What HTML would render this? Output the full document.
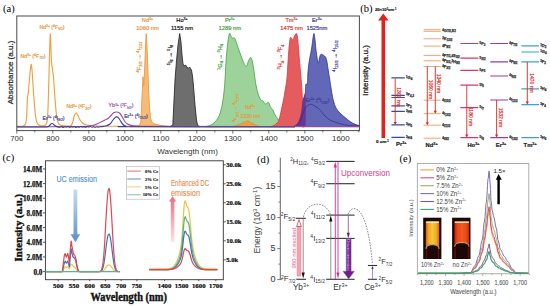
<!DOCTYPE html>
<html><head><meta charset="utf-8"><style>
html,body{margin:0;padding:0;background:#fff;width:550px;height:306px;overflow:hidden}
svg{display:block}
</style></head><body>
<svg width="550" height="306" viewBox="0 0 550 306">
<rect width="550" height="306" fill="#fff"/>
<text x="3" y="11.8" font-size="10.5" fill="#000" text-anchor="start" font-family='"Liberation Serif", serif' font-weight="normal" stroke="none">(a)</text>
<path d="M205.00,126.60 C205.83,126.42 208.50,126.10 210.00,125.50 C211.50,124.90 212.67,124.25 214.00,123.00 C215.33,121.75 216.92,119.83 218.00,118.00 C219.08,116.17 219.75,114.50 220.50,112.00 C221.25,109.50 221.92,106.33 222.50,103.00 C223.08,99.67 223.58,95.83 224.00,92.00 C224.42,88.17 224.67,85.00 225.00,80.00 C225.33,75.00 225.58,67.83 226.00,62.00 C226.42,56.17 226.93,49.73 227.50,45.00 C228.07,40.27 228.82,35.10 229.40,33.60 C229.98,32.10 230.48,35.18 231.00,36.00 C231.52,36.82 232.00,38.25 232.50,38.50 C233.00,38.75 233.50,37.25 234.00,37.50 C234.50,37.75 234.92,38.58 235.50,40.00 C236.08,41.42 236.75,43.83 237.50,46.00 C238.25,48.17 239.08,50.50 240.00,53.00 C240.92,55.50 242.17,59.00 243.00,61.00 C243.83,63.00 244.40,64.10 245.00,65.00 C245.60,65.90 246.02,67.07 246.60,66.40 C247.18,65.73 247.85,62.48 248.50,61.00 C249.15,59.52 249.92,57.67 250.50,57.50 C251.08,57.33 251.45,57.92 252.00,60.00 C252.55,62.08 253.13,65.83 253.80,70.00 C254.47,74.17 255.22,80.83 256.00,85.00 C256.78,89.17 257.67,92.50 258.50,95.00 C259.33,97.50 260.25,99.00 261.00,100.00 C261.75,101.00 262.25,100.33 263.00,101.00 C263.75,101.67 264.58,103.77 265.50,104.00 C266.42,104.23 267.75,102.07 268.50,102.40 C269.25,102.73 269.50,104.98 270.00,106.00 C270.50,107.02 271.00,107.83 271.50,108.50 C272.00,109.17 272.52,109.17 273.00,110.00 C273.48,110.83 273.90,112.42 274.40,113.50 C274.90,114.58 275.40,115.58 276.00,116.50 C276.60,117.42 277.17,117.92 278.00,119.00 C278.83,120.08 279.67,121.92 281.00,123.00 C282.33,124.08 283.67,124.90 286.00,125.50 C288.33,126.10 293.50,126.42 295.00,126.60 L295,126.6 L205,126.6 Z" fill="#9dd39a" stroke="#3fa33f" stroke-width="0.8"/>
<path d="M270.00,126.60 C270.67,126.42 272.83,126.10 274.00,125.50 C275.17,124.90 276.17,123.92 277.00,123.00 C277.83,122.08 278.28,122.17 279.00,120.00 C279.72,117.83 280.55,113.33 281.30,110.00 C282.05,106.67 282.85,103.33 283.50,100.00 C284.15,96.67 284.62,93.67 285.20,90.00 C285.78,86.33 286.57,82.17 287.00,78.00 C287.43,73.83 287.52,69.33 287.80,65.00 C288.08,60.67 288.42,55.67 288.70,52.00 C288.98,48.33 289.20,45.42 289.50,43.00 C289.80,40.58 290.08,38.17 290.50,37.50 C290.92,36.83 291.55,38.58 292.00,39.00 C292.45,39.42 292.78,40.50 293.20,40.00 C293.62,39.50 293.97,37.07 294.50,36.00 C295.03,34.93 295.90,33.43 296.40,33.60 C296.90,33.77 297.15,34.60 297.50,37.00 C297.85,39.40 298.15,43.83 298.50,48.00 C298.85,52.17 299.15,56.67 299.60,62.00 C300.05,67.33 300.77,74.50 301.20,80.00 C301.63,85.50 301.98,90.33 302.20,95.00 C302.42,99.67 302.42,104.50 302.50,108.00 C302.58,111.50 302.58,113.67 302.70,116.00 C302.82,118.33 302.95,120.37 303.20,122.00 C303.45,123.63 303.73,125.03 304.20,125.80 C304.67,126.57 305.70,126.47 306.00,126.60 Z" fill="#e45c5e" stroke="#d83838" stroke-width="0.8"/>
<path d="M302.00,126.60 C302.43,126.50 304.12,127.43 304.60,126.00 C305.08,124.57 304.80,122.33 304.90,118.00 C305.00,113.67 305.05,105.50 305.20,100.00 C305.35,94.50 305.42,87.67 305.80,85.00 C306.18,82.33 307.17,85.67 307.50,84.00 C307.83,82.33 307.60,78.17 307.80,75.00 C308.00,71.83 308.33,68.00 308.70,65.00 C309.07,62.00 309.50,59.83 310.00,57.00 C310.50,54.17 311.20,51.17 311.70,48.00 C312.20,44.83 312.62,40.40 313.00,38.00 C313.38,35.60 313.67,33.27 314.00,33.60 C314.33,33.93 314.58,36.60 315.00,40.00 C315.42,43.40 315.95,50.17 316.50,54.00 C317.05,57.83 317.80,62.33 318.30,63.00 C318.80,63.67 319.08,59.43 319.50,58.00 C319.92,56.57 320.22,54.90 320.80,54.40 C321.38,53.90 322.40,54.73 323.00,55.00 C323.60,55.27 323.98,55.67 324.40,56.00 C324.82,56.33 325.10,56.17 325.50,57.00 C325.90,57.83 326.35,58.83 326.80,61.00 C327.25,63.17 327.70,66.83 328.20,70.00 C328.70,73.17 329.25,76.50 329.80,80.00 C330.35,83.50 330.88,87.50 331.50,91.00 C332.12,94.50 332.75,98.17 333.50,101.00 C334.25,103.83 334.92,106.00 336.00,108.00 C337.08,110.00 338.50,111.42 340.00,113.00 C341.50,114.58 343.33,116.08 345.00,117.50 C346.67,118.92 348.33,120.37 350.00,121.50 C351.67,122.63 353.43,123.62 355.00,124.30 C356.57,124.98 358.67,125.38 359.40,125.60 L359.4,126.6 Z" fill="#5b5fb3" fill-opacity="0.95" stroke="#2f3391" stroke-width="0.8"/>
<path d="M294.5,126.6 C298,124.5 301.2,118 302.5,100 L305.3,92 L305.3,126.6 Z" fill="#6b3592"/>
<path d="M293.50,126.40 C294.08,126.08 295.92,125.40 297.00,124.50 C298.08,123.60 298.92,123.08 300.00,121.00 C301.08,118.92 302.42,114.42 303.50,112.00 C304.58,109.58 305.50,107.75 306.50,106.50 C307.50,105.25 308.67,104.85 309.50,104.50 C310.33,104.15 310.75,104.23 311.50,104.40 C312.25,104.57 312.92,104.90 314.00,105.50 C315.08,106.10 316.92,107.17 318.00,108.00 C319.08,108.83 319.33,109.17 320.50,110.50 C321.67,111.83 323.42,114.42 325.00,116.00 C326.58,117.58 328.33,119.00 330.00,120.00 C331.67,121.00 333.17,121.33 335.00,122.00 C336.83,122.67 338.83,123.45 341.00,124.00 C343.17,124.55 345.00,124.97 348.00,125.30 C351.00,125.63 357.17,125.88 359.00,126.00" fill="none" stroke="#2f3391" stroke-width="0.8"/>
<path d="M170.00,126.60 L172.80,125.00 L174.00,100.00 L175.00,80.00 L176.40,62.00 L178.00,45.00 L179.70,33.60 L181.00,42.00 L182.00,55.00 L183.00,64.00 L184.00,66.00 L185.50,65.00 L187.00,67.00 L188.20,68.50 L189.50,67.00 L190.50,68.50 L191.50,70.00 L192.50,76.00 L193.40,85.00 L195.00,105.00 L196.50,120.00 L197.60,125.50 L200.00,126.60 Z" fill="#6e6e6e" stroke="#1e1e1e" stroke-width="0.8"/>
<path d="M130.00,126.60 L137.00,126.00 L139.50,125.00 L140.80,122.00 L141.50,108.00 L142.30,90.00 L143.00,76.70 L143.80,86.00 L144.60,70.00 L145.40,48.00 L146.20,33.60 L147.00,46.00 L147.70,65.00 L148.50,88.00 L149.50,108.00 L150.50,118.00 L152.00,122.50 L156.00,124.50 L162.00,125.60 L170.00,126.60 Z" fill="#f6bb78" stroke="#ee9a3f" stroke-width="0.9"/>
<path d="M232.00,126.60 C232.67,126.42 234.67,125.93 236.00,125.50 C237.33,125.07 238.83,124.50 240.00,124.00 C241.17,123.50 242.00,122.92 243.00,122.50 C244.00,122.08 245.17,121.83 246.00,121.50 C246.83,121.17 247.33,120.42 248.00,120.50 C248.67,120.58 249.17,121.50 250.00,122.00 C250.83,122.50 252.00,123.00 253.00,123.50 C254.00,124.00 254.83,124.48 256.00,125.00 C257.17,125.52 259.33,126.33 260.00,126.60 Z" fill="#e8a040" stroke="#e08a20" stroke-width="0.6"/>
<path d="M17.20,126.30 C17.68,126.29 21.27,126.28 22.00,126.20 C22.73,126.12 24.12,125.82 24.50,125.50 C24.88,125.18 25.60,123.75 25.80,123.00 C26.00,122.25 26.38,119.50 26.50,118.00 C26.62,116.50 26.90,110.10 27.00,108.00 C27.10,105.90 27.38,98.45 27.50,97.00 C27.62,95.55 28.05,94.70 28.20,93.50 C28.35,92.30 28.81,87.15 29.00,85.00 C29.19,82.85 29.89,74.07 30.10,72.00 C30.31,69.93 30.92,64.60 31.10,64.30 C31.28,64.00 31.74,67.43 31.90,69.00 C32.06,70.57 32.53,77.50 32.70,80.00 C32.87,82.50 33.41,91.30 33.60,94.00 C33.79,96.70 34.39,104.70 34.60,107.00 C34.81,109.30 35.46,115.42 35.70,117.00 C35.94,118.58 36.62,121.96 37.00,122.80 C37.38,123.64 38.80,125.12 39.50,125.40 C40.20,125.68 43.35,125.69 44.00,125.60 C44.65,125.51 45.67,125.06 46.00,124.50 C46.33,123.94 47.09,121.85 47.30,120.00 C47.51,118.15 47.95,109.80 48.10,106.00 C48.25,102.20 48.65,87.40 48.80,82.00 C48.95,76.60 49.45,56.82 49.60,52.00 C49.75,47.18 50.17,34.20 50.30,33.80 C50.43,33.40 50.78,45.18 50.90,48.00 C51.02,50.82 51.34,59.85 51.50,62.00 C51.66,64.15 52.31,68.10 52.50,69.50 C52.69,70.90 53.21,73.95 53.40,76.00 C53.59,78.05 54.19,87.10 54.40,90.00 C54.61,92.90 55.27,102.35 55.50,105.00 C55.73,107.65 56.43,114.72 56.70,116.50 C56.97,118.28 57.77,121.91 58.20,122.80 C58.63,123.69 60.12,125.08 61.00,125.40 C61.88,125.72 66.00,125.96 67.00,126.00 C68.00,126.04 70.42,126.20 71.00,125.80 C71.58,125.40 72.48,122.98 72.80,122.00 C73.12,121.02 73.89,116.91 74.20,116.00 C74.51,115.09 75.57,113.05 75.90,112.90 C76.23,112.75 77.14,113.89 77.50,114.50 C77.86,115.11 79.05,118.20 79.50,119.00 C79.95,119.80 81.35,121.92 82.00,122.50 C82.65,123.08 85.00,124.47 86.00,124.80 C87.00,125.13 89.60,125.66 92.00,125.80 C94.40,125.94 106.20,126.16 110.00,126.20 C113.80,126.24 128.00,126.20 130.00,126.20" fill="none" stroke="#f0a040" stroke-width="1.15"/>
<path d="M17.00,126.80 C27.50,126.77 67.50,126.82 80.00,126.60 C92.50,126.38 89.00,126.02 92.00,125.50 C95.00,124.98 96.33,124.17 98.00,123.50 C99.67,122.83 100.83,122.08 102.00,121.50 C103.17,120.92 104.00,120.50 105.00,120.00 C106.00,119.50 107.00,119.25 108.00,118.50 C109.00,117.75 110.08,116.45 111.00,115.50 C111.92,114.55 112.55,113.38 113.50,112.80 C114.45,112.22 115.70,111.97 116.70,112.00 C117.70,112.03 118.62,112.25 119.50,113.00 C120.38,113.75 121.17,115.17 122.00,116.50 C122.83,117.83 123.67,119.78 124.50,121.00 C125.33,122.22 125.92,123.08 127.00,123.80 C128.08,124.52 129.33,124.93 131.00,125.30 C132.67,125.67 133.83,125.82 137.00,126.00 C140.17,126.18 113.00,126.30 150.00,126.40 C187.00,126.50 324.17,126.57 359.00,126.60" fill="none" stroke="#a3489e" stroke-width="1.1"/>
<path d="M17.00,127.00 C21.67,127.00 39.67,127.17 45.00,127.00 C50.33,126.83 47.83,126.63 49.00,126.00 C50.17,125.37 51.00,123.23 52.00,123.20 C53.00,123.17 54.00,125.17 55.00,125.80 C56.00,126.43 57.17,126.77 58.00,127.00 C58.83,127.23 59.40,127.28 60.00,127.20 C60.60,127.12 61.07,126.47 61.60,126.50 C62.13,126.53 62.67,127.37 63.20,127.40 C63.73,127.43 64.27,126.77 64.80,126.70 C65.33,126.63 65.87,127.05 66.40,127.00 C66.93,126.95 67.47,126.35 68.00,126.40 C68.53,126.45 69.07,127.27 69.60,127.30 C70.13,127.33 70.67,126.63 71.20,126.60 C71.73,126.57 72.27,127.12 72.80,127.10 C73.33,127.08 73.87,126.45 74.40,126.50 C74.93,126.55 75.47,127.35 76.00,127.40 C76.53,127.45 77.07,126.83 77.60,126.80 C78.13,126.77 78.67,127.27 79.20,127.20 C79.73,127.13 80.27,126.42 80.80,126.40 C81.33,126.38 81.87,127.07 82.40,127.10 C82.93,127.13 83.47,126.57 84.00,126.60 C84.53,126.63 85.07,127.28 85.60,127.30 C86.13,127.32 86.67,126.75 87.20,126.70 C87.73,126.65 88.27,127.03 88.80,127.00 C89.33,126.97 89.87,126.47 90.40,126.50 C90.93,126.53 91.47,127.18 92.00,127.20 C92.53,127.22 93.07,126.58 93.60,126.60 C94.13,126.62 94.67,127.27 95.20,127.30 C95.73,127.33 96.27,126.83 96.80,126.80 C97.33,126.77 97.87,127.10 98.40,127.10 C98.93,127.10 98.73,126.98 100.00,126.80 C101.27,126.62 104.33,126.47 106.00,126.00 C107.67,125.53 108.83,125.00 110.00,124.00 C111.17,123.00 112.08,121.13 113.00,120.00 C113.92,118.87 114.88,117.72 115.50,117.20 C116.12,116.68 116.20,116.80 116.70,116.90 C117.20,117.00 117.87,117.12 118.50,117.80 C119.13,118.48 119.75,119.88 120.50,121.00 C121.25,122.12 122.08,123.63 123.00,124.50 C123.92,125.37 124.50,125.82 126.00,126.20 C127.50,126.58 103.83,126.67 132.00,126.80 C160.17,126.93 267.83,126.97 295.00,127.00" fill="none" stroke="#3a3d9a" stroke-width="1.1"/>
<rect x="16.8" y="16.0" width="342.59999999999997" height="114.6" fill="none" stroke="#4a4a4a" stroke-width="1"/>
<path d="M16.80,130.6 L16.80,133.6 M34.80,130.6 L34.80,132.4 M52.80,130.6 L52.80,133.6 M70.80,130.6 L70.80,132.4 M88.80,130.6 L88.80,133.6 M106.80,130.6 L106.80,132.4 M124.80,130.6 L124.80,133.6 M142.80,130.6 L142.80,132.4 M160.80,130.6 L160.80,133.6 M178.80,130.6 L178.80,132.4 M196.80,130.6 L196.80,133.6 M214.80,130.6 L214.80,132.4 M232.80,130.6 L232.80,133.6 M250.80,130.6 L250.80,132.4 M268.80,130.6 L268.80,133.6 M286.80,130.6 L286.80,132.4 M304.80,130.6 L304.80,133.6 M322.80,130.6 L322.80,132.4 M340.80,130.6 L340.80,133.6 M358.80,130.6 L358.80,132.4 " stroke="#4a4a4a" stroke-width="0.8"/>
<text x="16.8" y="141.4" font-size="7.9" fill="#333" text-anchor="middle" font-family='"Liberation Sans", sans-serif' font-weight="normal" stroke="none">700</text>
<text x="52.8" y="141.4" font-size="7.9" fill="#333" text-anchor="middle" font-family='"Liberation Sans", sans-serif' font-weight="normal" stroke="none">800</text>
<text x="88.8" y="141.4" font-size="7.9" fill="#333" text-anchor="middle" font-family='"Liberation Sans", sans-serif' font-weight="normal" stroke="none">900</text>
<text x="124.8" y="141.4" font-size="7.9" fill="#333" text-anchor="middle" font-family='"Liberation Sans", sans-serif' font-weight="normal" stroke="none">1000</text>
<text x="160.8" y="141.4" font-size="7.9" fill="#333" text-anchor="middle" font-family='"Liberation Sans", sans-serif' font-weight="normal" stroke="none">1100</text>
<text x="196.8" y="141.4" font-size="7.9" fill="#333" text-anchor="middle" font-family='"Liberation Sans", sans-serif' font-weight="normal" stroke="none">1200</text>
<text x="232.8" y="141.4" font-size="7.9" fill="#333" text-anchor="middle" font-family='"Liberation Sans", sans-serif' font-weight="normal" stroke="none">1300</text>
<text x="268.8" y="141.4" font-size="7.9" fill="#333" text-anchor="middle" font-family='"Liberation Sans", sans-serif' font-weight="normal" stroke="none">1400</text>
<text x="304.8" y="141.4" font-size="7.9" fill="#333" text-anchor="middle" font-family='"Liberation Sans", sans-serif' font-weight="normal" stroke="none">1500</text>
<text x="340.8" y="141.4" font-size="7.9" fill="#333" text-anchor="middle" font-family='"Liberation Sans", sans-serif' font-weight="normal" stroke="none">1600</text>
<text x="187.5" y="153.5" font-size="8" fill="#333" text-anchor="middle" font-family='"Liberation Sans", sans-serif' font-weight="normal" stroke="none">Wavelength (nm)</text>
<text transform="translate(12.6,72.5) rotate(-90)" font-size="8" fill="#333" text-anchor="middle" font-family='"Liberation Sans", sans-serif' stroke="#333" stroke-width="0.28">Absorbance (a.u.)</text>
<text x="33" y="58" font-size="5.2" fill="#e8943a" text-anchor="middle" font-family='"Liberation Sans", sans-serif' stroke="#e8943a" stroke-width="0.18">Nd<tspan font-size="3.4" dy="-1.8">3+</tspan><tspan dy="1.8"> (</tspan><tspan font-size="3.4" dy="-1.8">4</tspan><tspan dy="1.8">F</tspan><tspan font-size="3.4" dy="1.4">7/2</tspan><tspan dy="-1.4">)</tspan></text>
<text x="52" y="28.6" font-size="5.2" fill="#e8943a" text-anchor="middle" font-family='"Liberation Sans", sans-serif' stroke="#e8943a" stroke-width="0.18">Nd<tspan font-size="3.4" dy="-1.8">3+</tspan><tspan dy="1.8"> (</tspan><tspan font-size="3.4" dy="-1.8">4</tspan><tspan dy="1.8">F</tspan><tspan font-size="3.4" dy="1.4">5/2</tspan><tspan dy="-1.4">)</tspan></text>
<text x="79" y="108.3" font-size="5.2" fill="#e8943a" text-anchor="middle" font-family='"Liberation Sans", sans-serif' stroke="#e8943a" stroke-width="0.18">Nd<tspan font-size="3.4" dy="-1.8">3+</tspan><tspan dy="1.8"> (</tspan><tspan font-size="3.4" dy="-1.8">4</tspan><tspan dy="1.8">F</tspan><tspan font-size="3.4" dy="1.4">3/2</tspan><tspan dy="-1.4">)</tspan></text>
<text x="53.5" y="119.5" font-size="5.2" fill="#3a3d9a" text-anchor="middle" font-family='"Liberation Sans", sans-serif' stroke="#3a3d9a" stroke-width="0.18">Er<tspan font-size="3.4" dy="-1.8">3+</tspan><tspan dy="1.8"> (</tspan><tspan font-size="3.4" dy="-1.8">4</tspan><tspan dy="1.8">I</tspan><tspan font-size="3.4" dy="1.4">9/2</tspan><tspan dy="-1.4">)</tspan></text>
<text x="121" y="107.3" font-size="5.2" fill="#a64ca6" text-anchor="middle" font-family='"Liberation Sans", sans-serif' stroke="#a64ca6" stroke-width="0.18">Yb<tspan font-size="3.4" dy="-1.8">3+</tspan><tspan dy="1.8"> (</tspan><tspan font-size="3.4" dy="-1.8">2</tspan><tspan dy="1.8">F</tspan><tspan font-size="3.4" dy="1.4">5/2</tspan><tspan dy="-1.4">)</tspan></text>
<text x="136" y="117.6" font-size="5.2" fill="#3a3d9a" text-anchor="middle" font-family='"Liberation Sans", sans-serif' stroke="#3a3d9a" stroke-width="0.18">Er<tspan font-size="3.4" dy="-1.8">3+</tspan><tspan dy="1.8"> (</tspan><tspan font-size="3.4" dy="-1.8">4</tspan><tspan dy="1.8">I</tspan><tspan font-size="3.4" dy="1.4">11/2</tspan><tspan dy="-1.4">)</tspan></text>
<text x="317.5" y="102.2" font-size="5.2" fill="#3a3d9a" text-anchor="middle" font-family='"Liberation Sans", sans-serif' stroke="#3a3d9a" stroke-width="0.18">Er<tspan font-size="3.4" dy="-1.8">3+</tspan><tspan dy="1.8"> (</tspan><tspan font-size="3.4" dy="-1.8">4</tspan><tspan dy="1.8">I</tspan><tspan font-size="3.4" dy="1.4">13/2</tspan><tspan dy="-1.4">)</tspan></text>
<text x="147.5" y="22.3" font-size="5.6" fill="#e8943a" text-anchor="middle" font-family='"Liberation Sans", sans-serif' stroke="#e8943a" stroke-width="0.20">Nd<tspan font-size="3.6" dy="-2">3+</tspan></text>
<text x="147.5" y="30.4" font-size="5.8" fill="#e8943a" text-anchor="middle" font-family='"Liberation Sans", sans-serif' stroke="#e8943a" stroke-width="0.20">1060 nm</text>
<text x="182" y="22.3" font-size="5.6" fill="#111" text-anchor="middle" font-family='"Liberation Sans", sans-serif' stroke="#111" stroke-width="0.20">Ho<tspan font-size="3.6" dy="-2">3+</tspan></text>
<text x="182" y="30.4" font-size="5.8" fill="#111" text-anchor="middle" font-family='"Liberation Sans", sans-serif' stroke="#111" stroke-width="0.20">1155 nm</text>
<text x="229.8" y="22.3" font-size="5.6" fill="#3fa33f" text-anchor="middle" font-family='"Liberation Sans", sans-serif' stroke="#3fa33f" stroke-width="0.20">Pr<tspan font-size="3.6" dy="-2">3+</tspan></text>
<text x="229.8" y="30.4" font-size="5.8" fill="#3fa33f" text-anchor="middle" font-family='"Liberation Sans", sans-serif' stroke="#3fa33f" stroke-width="0.20">1289 nm</text>
<text x="291.5" y="22.3" font-size="5.6" fill="#e03a3a" text-anchor="middle" font-family='"Liberation Sans", sans-serif' stroke="#e03a3a" stroke-width="0.20">Tm<tspan font-size="3.6" dy="-2">3+</tspan></text>
<text x="291.5" y="30.4" font-size="5.8" fill="#e03a3a" text-anchor="middle" font-family='"Liberation Sans", sans-serif' stroke="#e03a3a" stroke-width="0.20">1475 nm</text>
<text x="316.9" y="22.3" font-size="5.6" fill="#3a3d9a" text-anchor="middle" font-family='"Liberation Sans", sans-serif' stroke="#3a3d9a" stroke-width="0.20">Er<tspan font-size="3.6" dy="-2">3+</tspan></text>
<text x="316.9" y="30.4" font-size="5.8" fill="#3a3d9a" text-anchor="middle" font-family='"Liberation Sans", sans-serif' stroke="#3a3d9a" stroke-width="0.20">1525nm</text>
<text transform="translate(140.5,57) rotate(-90)" font-size="5.6" fill="#e8943a" text-anchor="middle" font-family='"Liberation Sans", sans-serif' stroke="#e8943a" stroke-width="0.20"><tspan font-size="3.9" dy="-1.9">4</tspan><tspan dy="1.9">F</tspan><tspan font-size="3.9" dy="1.3">3/2</tspan><tspan dy="-1.3"> → </tspan><tspan font-size="3.9" dy="-1.9">4</tspan><tspan dy="1.9">I</tspan><tspan font-size="3.9" dy="1.3">11/2</tspan></text>
<text transform="translate(172.0,55) rotate(-90)" font-size="5.6" fill="#111" text-anchor="middle" font-family='"Liberation Sans", sans-serif' stroke="#111" stroke-width="0.20"><tspan font-size="3.9" dy="-1.9">5</tspan><tspan dy="1.9">I</tspan><tspan font-size="3.9" dy="1.3">6</tspan><tspan dy="-1.3"> → </tspan><tspan font-size="3.9" dy="-1.9">5</tspan><tspan dy="1.9">I</tspan><tspan font-size="3.9" dy="1.3">8</tspan></text>
<text transform="translate(221.6,57) rotate(-90)" font-size="5.6" fill="#3fa33f" text-anchor="middle" font-family='"Liberation Sans", sans-serif' stroke="#3fa33f" stroke-width="0.20"><tspan font-size="3.9" dy="-1.9">1</tspan><tspan dy="1.9">G</tspan><tspan font-size="3.9" dy="1.3">4</tspan><tspan dy="-1.3"> → </tspan><tspan font-size="3.9" dy="-1.9">3</tspan><tspan dy="1.9">H</tspan><tspan font-size="3.9" dy="1.3">4</tspan></text>
<text transform="translate(282.3,57) rotate(-90)" font-size="5.6" fill="#e03a3a" text-anchor="middle" font-family='"Liberation Sans", sans-serif' stroke="#e03a3a" stroke-width="0.20"><tspan font-size="3.9" dy="-1.9">3</tspan><tspan dy="1.9">H</tspan><tspan font-size="3.9" dy="1.3">4</tspan><tspan dy="-1.3"> → </tspan><tspan font-size="3.9" dy="-1.9">3</tspan><tspan dy="1.9">F</tspan><tspan font-size="3.9" dy="1.3">4</tspan></text>
<text transform="translate(336.8,56) rotate(-90)" font-size="5.6" fill="#3a3d9a" text-anchor="middle" font-family='"Liberation Sans", sans-serif' stroke="#3a3d9a" stroke-width="0.20"><tspan font-size="3.9" dy="-1.9">4</tspan><tspan dy="1.9">I</tspan><tspan font-size="3.9" dy="1.3">13/2</tspan><tspan dy="-1.3"> → </tspan><tspan font-size="3.9" dy="-1.9">4</tspan><tspan dy="1.9">I</tspan><tspan font-size="3.9" dy="1.3">15/2</tspan></text>
<text transform="translate(237.3,108) rotate(-90)" font-size="4.4" fill="#e8943a" text-anchor="middle" font-family='"Liberation Sans", sans-serif' stroke="#e8943a" stroke-width="0.15"><tspan font-size="3.9" dy="-1.9">4</tspan><tspan dy="1.9">F</tspan><tspan font-size="3.9" dy="1.3">3/2</tspan><tspan dy="-1.3"> → </tspan><tspan font-size="3.9" dy="-1.9">4</tspan><tspan dy="1.9">I</tspan><tspan font-size="3.9" dy="1.3">13/2</tspan></text>
<text x="250" y="108.5" font-size="5" fill="#e8943a" text-anchor="middle" font-family='"Liberation Sans", sans-serif' stroke="#e8943a" stroke-width="0.18">Nd<tspan font-size="3.3" dy="-1.8">3+</tspan></text>
<text x="250.5" y="117.5" font-size="5.2" fill="#e8943a" text-anchor="middle" font-family='"Liberation Sans", sans-serif' stroke="#e8943a" stroke-width="0.18">1330 nm</text>
<text x="360.3" y="12.4" font-size="10.5" fill="#000" text-anchor="start" font-family='"Liberation Serif", serif' font-weight="normal" stroke="none">(b)</text>
<text x="374.9" y="10.8" font-size="4.4" fill="#111" textLength="21.4" lengthAdjust="spacingAndGlyphs" font-family='"Liberation Sans", sans-serif' font-weight="bold" stroke="#111" stroke-width="0.15">20×10<tspan font-size="2.6" dy="-1.2">3</tspan><tspan dy="1.2">cm</tspan><tspan font-size="2.6" dy="-1.2">-1</tspan></text>
<text x="375.9" y="143.3" font-size="4.4" fill="#111" textLength="13" lengthAdjust="spacingAndGlyphs" font-family='"Liberation Sans", sans-serif' font-weight="bold" stroke="#111" stroke-width="0.15">0 cm<tspan font-size="2.6" dy="-1.2">-1</tspan></text>
<path d="M381.5,138 L381.5,20.5 L378.1,20.5 L383.3,13.4 L388.6,20.5 L385.1,20.5 L385.1,138 Z" fill="#e2201e"/>
<text transform="translate(368.4,70.5) rotate(-90)" font-size="8" fill="#222" text-anchor="middle" font-family='"Liberation Sans", sans-serif' stroke="#222" stroke-width="0.28">Intensity (a.u.)</text>
<path d="M391.4,77.8 L404.8,77.8 M391.4,95.3 L404.8,95.3 M391.4,97.5 L404.8,97.5 M391.4,105.8 L404.8,105.8 M391.4,111.4 L404.8,111.4 M391.4,124.9 L404.8,124.9 M391.4,137.4 L404.8,137.4 " stroke="#2b4fa8" stroke-width="1.2"/>
<text x="406.0" y="79.1" font-size="4.0" fill="#333" font-family='"Liberation Sans", sans-serif' font-weight="bold" stroke="#333" stroke-width="0.25"><tspan font-size="2.9" dy="-0.9">1</tspan><tspan dy="0.9">G</tspan><tspan font-size="2.9" dy="0.7">4</tspan><tspan dy="-0.7"></tspan></text>
<text x="406.0" y="96.1" font-size="4.0" fill="#333" font-family='"Liberation Sans", sans-serif' font-weight="bold" stroke="#333" stroke-width="0.25"><tspan font-size="2.9" dy="-0.9">3</tspan><tspan dy="0.9">F</tspan><tspan font-size="2.9" dy="0.7">4,3</tspan><tspan dy="-0.7"></tspan></text>
<text x="406.0" y="107.1" font-size="4.0" fill="#333" font-family='"Liberation Sans", sans-serif' font-weight="bold" stroke="#333" stroke-width="0.25"><tspan font-size="2.9" dy="-0.9">3</tspan><tspan dy="0.9">F</tspan><tspan font-size="2.9" dy="0.7">2</tspan><tspan dy="-0.7"></tspan></text>
<text x="406.0" y="112.7" font-size="4.0" fill="#333" font-family='"Liberation Sans", sans-serif' font-weight="bold" stroke="#333" stroke-width="0.25"><tspan font-size="2.9" dy="-0.9">3</tspan><tspan dy="0.9">H</tspan><tspan font-size="2.9" dy="0.7">6</tspan><tspan dy="-0.7"></tspan></text>
<text x="406.0" y="126.2" font-size="4.0" fill="#333" font-family='"Liberation Sans", sans-serif' font-weight="bold" stroke="#333" stroke-width="0.25"><tspan font-size="2.9" dy="-0.9">3</tspan><tspan dy="0.9">H</tspan><tspan font-size="2.9" dy="0.7">5</tspan><tspan dy="-0.7"></tspan></text>
<text x="406.0" y="138.70000000000002" font-size="4.0" fill="#333" font-family='"Liberation Sans", sans-serif' font-weight="bold" stroke="#333" stroke-width="0.25"><tspan font-size="2.9" dy="-0.9">3</tspan><tspan dy="0.9">H</tspan><tspan font-size="2.9" dy="0.7">4</tspan><tspan dy="-0.7"></tspan></text>
<path d="M395.2,78.5 L395.2,122.5" stroke="#e02424" stroke-width="0.9"/>
<path d="M393.59999999999997,122.0 L396.8,122.0 L395.2,125.0 Z" fill="#e02424"/>
<text transform="translate(396.8,97) rotate(90)" font-size="5.0" fill="#e02424" text-anchor="middle" font-family='"Liberation Sans", sans-serif' stroke="#e02424" stroke-width="0.18">1300 nm</text>
<text x="396.1" y="145.8" font-size="5.8" fill="#222" font-family='"Liberation Sans", sans-serif' font-weight="bold" stroke="#222" stroke-width="0.20">Pr<tspan font-size="3.8" dy="-2">3+</tspan></text>
<path d="M423.6,29.7 L440.7,29.7 M423.6,31.3 L440.7,31.3 M423.6,38.8 L440.7,38.8 M423.6,46.1 L440.7,46.1 M423.6,55.4 L440.7,55.4 M423.6,60.8 L440.7,60.8 M423.6,66.5 L440.7,66.5 M423.6,100.2 L440.7,100.2 M423.6,113.7 L440.7,113.7 M423.6,125.2 L440.7,125.2 M423.6,138.2 L440.7,138.2 " stroke="#f2a36e" stroke-width="1.0"/>
<text x="442.2" y="31.5" font-size="4.0" fill="#333" font-family='"Liberation Sans", sans-serif' font-weight="bold" stroke="#333" stroke-width="0.25"><tspan font-size="2.9" dy="-0.9">4</tspan><tspan dy="0.9">G</tspan><tspan font-size="2.9" dy="0.7">7/2,9/2</tspan><tspan dy="-0.7"></tspan></text>
<text x="442.2" y="40.099999999999994" font-size="4.0" fill="#333" font-family='"Liberation Sans", sans-serif' font-weight="bold" stroke="#333" stroke-width="0.25"><tspan font-size="2.9" dy="-0.9">2</tspan><tspan dy="0.9">K</tspan><tspan font-size="2.9" dy="0.7">13/2</tspan><tspan dy="-0.7"></tspan></text>
<text x="442.2" y="47.4" font-size="4.0" fill="#333" font-family='"Liberation Sans", sans-serif' font-weight="bold" stroke="#333" stroke-width="0.25"><tspan font-size="2.9" dy="-0.9">4</tspan><tspan dy="0.9">F</tspan><tspan font-size="2.9" dy="0.7">9/2</tspan><tspan dy="-0.7"></tspan></text>
<text x="442.2" y="56.699999999999996" font-size="4.0" fill="#333" font-family='"Liberation Sans", sans-serif' font-weight="bold" stroke="#333" stroke-width="0.25"><tspan font-size="2.9" dy="-0.9">4</tspan><tspan dy="0.9">F</tspan><tspan font-size="2.9" dy="0.7">7/2</tspan><tspan dy="-0.7"></tspan>,<tspan font-size="2.9" dy="-0.9">4</tspan><tspan dy="0.9">S</tspan><tspan font-size="2.9" dy="0.7">3/2</tspan><tspan dy="-0.7"></tspan></text>
<text x="442.2" y="62.099999999999994" font-size="4.0" fill="#333" font-family='"Liberation Sans", sans-serif' font-weight="bold" stroke="#333" stroke-width="0.25"><tspan font-size="2.9" dy="-0.9">4</tspan><tspan dy="0.9">F</tspan><tspan font-size="2.9" dy="0.7">5/2</tspan><tspan dy="-0.7"></tspan>,<tspan font-size="2.9" dy="-0.9">2</tspan><tspan dy="0.9">H</tspan><tspan font-size="2.9" dy="0.7">9/2</tspan><tspan dy="-0.7"></tspan></text>
<text x="442.2" y="67.8" font-size="4.0" fill="#333" font-family='"Liberation Sans", sans-serif' font-weight="bold" stroke="#333" stroke-width="0.25"><tspan font-size="2.9" dy="-0.9">4</tspan><tspan dy="0.9">F</tspan><tspan font-size="2.9" dy="0.7">3/2</tspan><tspan dy="-0.7"></tspan></text>
<text x="442.2" y="101.5" font-size="4.0" fill="#333" font-family='"Liberation Sans", sans-serif' font-weight="bold" stroke="#333" stroke-width="0.25"><tspan font-size="2.9" dy="-0.9">4</tspan><tspan dy="0.9">I</tspan><tspan font-size="2.9" dy="0.7">15/2</tspan><tspan dy="-0.7"></tspan></text>
<text x="442.2" y="115.0" font-size="4.0" fill="#333" font-family='"Liberation Sans", sans-serif' font-weight="bold" stroke="#333" stroke-width="0.25"><tspan font-size="2.9" dy="-0.9">4</tspan><tspan dy="0.9">I</tspan><tspan font-size="2.9" dy="0.7">13/2</tspan><tspan dy="-0.7"></tspan></text>
<text x="442.2" y="126.5" font-size="4.0" fill="#333" font-family='"Liberation Sans", sans-serif' font-weight="bold" stroke="#333" stroke-width="0.25"><tspan font-size="2.9" dy="-0.9">4</tspan><tspan dy="0.9">I</tspan><tspan font-size="2.9" dy="0.7">11/2</tspan><tspan dy="-0.7"></tspan></text>
<text x="442.2" y="139.5" font-size="4.0" fill="#333" font-family='"Liberation Sans", sans-serif' font-weight="bold" stroke="#333" stroke-width="0.25"><tspan font-size="2.9" dy="-0.9">4</tspan><tspan dy="0.9">I</tspan><tspan font-size="2.9" dy="0.7">9/2</tspan><tspan dy="-0.7"></tspan></text>
<path d="M427.3,66.5 L427.3,122.7" stroke="#e02424" stroke-width="0.9"/>
<path d="M425.7,122.2 L428.90000000000003,122.2 L427.3,125.2 Z" fill="#e02424"/>
<text transform="translate(429.3,89.5) rotate(90)" font-size="5.0" fill="#e02424" text-anchor="middle" font-family='"Liberation Sans", sans-serif' stroke="#e02424" stroke-width="0.18">1060 nm</text>
<path d="M435.3,66.5 L435.3,111.2" stroke="#e02424" stroke-width="0.9"/>
<path d="M433.7,110.7 L436.90000000000003,110.7 L435.3,113.7 Z" fill="#e02424"/>
<text transform="translate(437.4,83.5) rotate(90)" font-size="5.0" fill="#e02424" text-anchor="middle" font-family='"Liberation Sans", sans-serif' stroke="#e02424" stroke-width="0.18">1340 nm</text>
<text x="425.6" y="146.6" font-size="5.8" fill="#222" font-family='"Liberation Sans", sans-serif' font-weight="bold" stroke="#222" stroke-width="0.20">Nd<tspan font-size="3.8" dy="-2">3+</tspan></text>
<path d="M460.4,43.5 L478.3,43.5 M460.4,58.2 L478.3,58.2 M460.4,70.4 L478.3,70.4 M460.4,85.1 L478.3,85.1 M460.4,107.6 L478.3,107.6 M460.4,137.6 L478.3,137.6 " stroke="#e0306a" stroke-width="1.2"/>
<text x="479.6" y="44.8" font-size="4.0" fill="#333" font-family='"Liberation Sans", sans-serif' font-weight="bold" stroke="#333" stroke-width="0.25"><tspan font-size="2.9" dy="-0.9">5</tspan><tspan dy="0.9">F</tspan><tspan font-size="2.9" dy="0.7">3</tspan><tspan dy="-0.7"></tspan></text>
<text x="479.6" y="59.5" font-size="4.0" fill="#333" font-family='"Liberation Sans", sans-serif' font-weight="bold" stroke="#333" stroke-width="0.25"><tspan font-size="2.9" dy="-0.9">5</tspan><tspan dy="0.9">S</tspan><tspan font-size="2.9" dy="0.7">2</tspan><tspan dy="-0.7"></tspan></text>
<text x="479.6" y="71.7" font-size="4.0" fill="#333" font-family='"Liberation Sans", sans-serif' font-weight="bold" stroke="#333" stroke-width="0.25"><tspan font-size="2.9" dy="-0.9">5</tspan><tspan dy="0.9">F</tspan><tspan font-size="2.9" dy="0.7">5</tspan><tspan dy="-0.7"></tspan></text>
<text x="479.6" y="86.39999999999999" font-size="4.0" fill="#333" font-family='"Liberation Sans", sans-serif' font-weight="bold" stroke="#333" stroke-width="0.25"><tspan font-size="2.9" dy="-0.9">5</tspan><tspan dy="0.9">I</tspan><tspan font-size="2.9" dy="0.7">5</tspan><tspan dy="-0.7"></tspan></text>
<text x="479.6" y="108.89999999999999" font-size="4.0" fill="#333" font-family='"Liberation Sans", sans-serif' font-weight="bold" stroke="#333" stroke-width="0.25"><tspan font-size="2.9" dy="-0.9">5</tspan><tspan dy="0.9">I</tspan><tspan font-size="2.9" dy="0.7">7</tspan><tspan dy="-0.7"></tspan></text>
<text x="479.6" y="138.9" font-size="4.0" fill="#333" font-family='"Liberation Sans", sans-serif' font-weight="bold" stroke="#333" stroke-width="0.25"><tspan font-size="2.9" dy="-0.9">5</tspan><tspan dy="0.9">I</tspan><tspan font-size="2.9" dy="0.7">8</tspan><tspan dy="-0.7"></tspan></text>
<path d="M466.8,85.1 L466.8,135.1" stroke="#e02424" stroke-width="0.9"/>
<path d="M465.2,134.6 L468.40000000000003,134.6 L466.8,137.6 Z" fill="#e02424"/>
<text transform="translate(468.8,116.5) rotate(90)" font-size="5.0" fill="#e02424" text-anchor="middle" font-family='"Liberation Sans", sans-serif' stroke="#e02424" stroke-width="0.18">1180 nm</text>
<text x="467.4" y="146.6" font-size="5.8" fill="#222" font-family='"Liberation Sans", sans-serif' font-weight="bold" stroke="#222" stroke-width="0.20">Ho<tspan font-size="3.8" dy="-2">3+</tspan></text>
<path d="M490.3,43.5 L508.0,43.5 M490.3,61.9 L508.0,61.9 M490.3,76.0 L508.0,76.0 M490.3,100.0 L508.0,100.0 M490.3,137.6 L508.0,137.6 " stroke="#9a3ab0" stroke-width="1.2"/>
<text x="509.3" y="44.8" font-size="4.0" fill="#333" font-family='"Liberation Sans", sans-serif' font-weight="bold" stroke="#333" stroke-width="0.25"><tspan font-size="2.9" dy="-0.9">4</tspan><tspan dy="0.9">F</tspan><tspan font-size="2.9" dy="0.7">7/2</tspan><tspan dy="-0.7"></tspan></text>
<text x="509.3" y="63.199999999999996" font-size="4.0" fill="#333" font-family='"Liberation Sans", sans-serif' font-weight="bold" stroke="#333" stroke-width="0.25"><tspan font-size="2.9" dy="-0.9">4</tspan><tspan dy="0.9">F</tspan><tspan font-size="2.9" dy="0.7">9/2</tspan><tspan dy="-0.7"></tspan></text>
<text x="509.3" y="77.3" font-size="4.0" fill="#333" font-family='"Liberation Sans", sans-serif' font-weight="bold" stroke="#333" stroke-width="0.25"><tspan font-size="2.9" dy="-0.9">4</tspan><tspan dy="0.9">I</tspan><tspan font-size="2.9" dy="0.7">9/2</tspan><tspan dy="-0.7"></tspan></text>
<text x="509.3" y="101.3" font-size="4.0" fill="#333" font-family='"Liberation Sans", sans-serif' font-weight="bold" stroke="#333" stroke-width="0.25"><tspan font-size="2.9" dy="-0.9">4</tspan><tspan dy="0.9">I</tspan><tspan font-size="2.9" dy="0.7">11/2</tspan><tspan dy="-0.7"></tspan></text>
<text x="509.3" y="138.9" font-size="4.0" fill="#333" font-family='"Liberation Sans", sans-serif' font-weight="bold" stroke="#333" stroke-width="0.25"><tspan font-size="2.9" dy="-0.9">4</tspan><tspan dy="0.9">I</tspan><tspan font-size="2.9" dy="0.7">15/2</tspan><tspan dy="-0.7"></tspan></text>
<path d="M496.6,100.0 L496.6,135.1" stroke="#e02424" stroke-width="0.9"/>
<path d="M495.0,134.6 L498.20000000000005,134.6 L496.6,137.6 Z" fill="#e02424"/>
<text transform="translate(499.2,117.5) rotate(90)" font-size="5.0" fill="#e02424" text-anchor="middle" font-family='"Liberation Sans", sans-serif' stroke="#e02424" stroke-width="0.18">1532 nm</text>
<text x="495.8" y="146.6" font-size="5.8" fill="#222" font-family='"Liberation Sans", sans-serif' font-weight="bold" stroke="#222" stroke-width="0.20">Er<tspan font-size="3.8" dy="-2">3+</tspan></text>
<path d="M521.4,45.9 L539.0,45.9 M521.4,52.0 L539.0,52.0 M521.4,61.9 L539.0,61.9 M521.4,88.8 L539.0,88.8 M521.4,104.6 L539.0,104.6 M521.4,137.6 L539.0,137.6 " stroke="#3aa0d8" stroke-width="1.2"/>
<text x="540.2" y="47.199999999999996" font-size="4.0" fill="#333" font-family='"Liberation Sans", sans-serif' font-weight="bold" stroke="#333" stroke-width="0.25"><tspan font-size="2.9" dy="-0.9">1</tspan><tspan dy="0.9">D</tspan><tspan font-size="2.9" dy="0.7">2</tspan><tspan dy="-0.7"></tspan></text>
<text x="540.2" y="53.3" font-size="4.0" fill="#333" font-family='"Liberation Sans", sans-serif' font-weight="bold" stroke="#333" stroke-width="0.25"><tspan font-size="2.9" dy="-0.9">1</tspan><tspan dy="0.9">G</tspan><tspan font-size="2.9" dy="0.7">4</tspan><tspan dy="-0.7"></tspan></text>
<text x="540.2" y="63.199999999999996" font-size="4.0" fill="#333" font-family='"Liberation Sans", sans-serif' font-weight="bold" stroke="#333" stroke-width="0.25"><tspan font-size="2.9" dy="-0.9">3</tspan><tspan dy="0.9">F</tspan><tspan font-size="2.9" dy="0.7">2</tspan><tspan dy="-0.7"></tspan></text>
<text x="540.2" y="90.1" font-size="4.0" fill="#333" font-family='"Liberation Sans", sans-serif' font-weight="bold" stroke="#333" stroke-width="0.25"><tspan font-size="2.9" dy="-0.9">3</tspan><tspan dy="0.9">H</tspan><tspan font-size="2.9" dy="0.7">4</tspan><tspan dy="-0.7"></tspan></text>
<text x="540.2" y="105.89999999999999" font-size="4.0" fill="#333" font-family='"Liberation Sans", sans-serif' font-weight="bold" stroke="#333" stroke-width="0.25"><tspan font-size="2.9" dy="-0.9">3</tspan><tspan dy="0.9">F</tspan><tspan font-size="2.9" dy="0.7">4</tspan><tspan dy="-0.7"></tspan></text>
<text x="540.2" y="138.9" font-size="4.0" fill="#333" font-family='"Liberation Sans", sans-serif' font-weight="bold" stroke="#333" stroke-width="0.25"><tspan font-size="2.9" dy="-0.9">3</tspan><tspan dy="0.9">H</tspan><tspan font-size="2.9" dy="0.7">6</tspan><tspan dy="-0.7"></tspan></text>
<path d="M527.3,61.9 L527.3,102.1" stroke="#e02424" stroke-width="0.9"/>
<path d="M525.6999999999999,101.6 L528.9,101.6 L527.3,104.6 Z" fill="#e02424"/>
<text transform="translate(529.9,83) rotate(90)" font-size="5.0" fill="#e02424" text-anchor="middle" font-family='"Liberation Sans", sans-serif' stroke="#e02424" stroke-width="0.18">1470 nm</text>
<text x="523.6" y="146.6" font-size="5.8" fill="#222" font-family='"Liberation Sans", sans-serif' font-weight="bold" stroke="#222" stroke-width="0.20">Tm<tspan font-size="3.8" dy="-2">3+</tspan></text>
<text x="2.6" y="161.3" font-size="10.5" fill="#000" text-anchor="start" font-family='"Liberation Serif", serif' font-weight="normal" stroke="none">(c)</text>
<text x="42.4" y="274.60" font-size="7.2" fill="#111" text-anchor="end" font-family='"Liberation Serif", serif' font-weight="bold" stroke="#111" stroke-width="0.25">0.0</text>
<text x="42.4" y="259.93" font-size="7.2" fill="#111" text-anchor="end" font-family='"Liberation Serif", serif' font-weight="bold" stroke="#111" stroke-width="0.25">2.0M</text>
<text x="42.4" y="245.26" font-size="7.2" fill="#111" text-anchor="end" font-family='"Liberation Serif", serif' font-weight="bold" stroke="#111" stroke-width="0.25">4.0M</text>
<text x="42.4" y="230.59" font-size="7.2" fill="#111" text-anchor="end" font-family='"Liberation Serif", serif' font-weight="bold" stroke="#111" stroke-width="0.25">6.0M</text>
<text x="42.4" y="215.92" font-size="7.2" fill="#111" text-anchor="end" font-family='"Liberation Serif", serif' font-weight="bold" stroke="#111" stroke-width="0.25">8.0M</text>
<text x="42.4" y="201.25" font-size="7.2" fill="#111" text-anchor="end" font-family='"Liberation Serif", serif' font-weight="bold" stroke="#111" stroke-width="0.25">10.0M</text>
<text x="42.4" y="186.58" font-size="7.2" fill="#111" text-anchor="end" font-family='"Liberation Serif", serif' font-weight="bold" stroke="#111" stroke-width="0.25">12.0M</text>
<text x="42.4" y="171.91" font-size="7.2" fill="#111" text-anchor="end" font-family='"Liberation Serif", serif' font-weight="bold" stroke="#111" stroke-width="0.25">14.0M</text>
<text x="226.2" y="262.20" font-size="6.6" fill="#111" font-family='"Liberation Serif", serif' font-weight="bold" stroke="#111" stroke-width="0.23">5.0k</text>
<text x="226.2" y="243.20" font-size="6.6" fill="#111" font-family='"Liberation Serif", serif' font-weight="bold" stroke="#111" stroke-width="0.23">10.0k</text>
<text x="226.2" y="224.20" font-size="6.6" fill="#111" font-family='"Liberation Serif", serif' font-weight="bold" stroke="#111" stroke-width="0.23">15.0k</text>
<text x="226.2" y="205.20" font-size="6.6" fill="#111" font-family='"Liberation Serif", serif' font-weight="bold" stroke="#111" stroke-width="0.23">20.0k</text>
<text x="226.2" y="186.20" font-size="6.6" fill="#111" font-family='"Liberation Serif", serif' font-weight="bold" stroke="#111" stroke-width="0.23">25.0k</text>
<text x="226.2" y="167.20" font-size="6.6" fill="#111" font-family='"Liberation Serif", serif' font-weight="bold" stroke="#111" stroke-width="0.23">30.0k</text>
<text x="58.20" y="287.5" font-size="6.8" fill="#111" text-anchor="middle" font-family='"Liberation Serif", serif' font-weight="bold" stroke="#111" stroke-width="0.24">500</text>
<text x="73.94" y="287.5" font-size="6.8" fill="#111" text-anchor="middle" font-family='"Liberation Serif", serif' font-weight="bold" stroke="#111" stroke-width="0.24">550</text>
<text x="89.68" y="287.5" font-size="6.8" fill="#111" text-anchor="middle" font-family='"Liberation Serif", serif' font-weight="bold" stroke="#111" stroke-width="0.24">600</text>
<text x="105.42" y="287.5" font-size="6.8" fill="#111" text-anchor="middle" font-family='"Liberation Serif", serif' font-weight="bold" stroke="#111" stroke-width="0.24">650</text>
<text x="121.16" y="287.5" font-size="6.8" fill="#111" text-anchor="middle" font-family='"Liberation Serif", serif' font-weight="bold" stroke="#111" stroke-width="0.24">700</text>
<text x="136.90" y="287.5" font-size="6.8" fill="#111" text-anchor="middle" font-family='"Liberation Serif", serif' font-weight="bold" stroke="#111" stroke-width="0.24">750</text>
<text x="164.60" y="287.5" font-size="6.8" fill="#111" text-anchor="middle" font-family='"Liberation Serif", serif' font-weight="bold" stroke="#111" stroke-width="0.24">1400</text>
<text x="181.67" y="287.5" font-size="6.8" fill="#111" text-anchor="middle" font-family='"Liberation Serif", serif' font-weight="bold" stroke="#111" stroke-width="0.24">1500</text>
<text x="198.74" y="287.5" font-size="6.8" fill="#111" text-anchor="middle" font-family='"Liberation Serif", serif' font-weight="bold" stroke="#111" stroke-width="0.24">1600</text>
<text x="215.81" y="287.5" font-size="6.8" fill="#111" text-anchor="middle" font-family='"Liberation Serif", serif' font-weight="bold" stroke="#111" stroke-width="0.24">1700</text>
<rect x="45.4" y="160.8" width="177.9" height="118.89999999999998" fill="none" stroke="#333" stroke-width="0.9"/>
<path d="M42.9,271.60 L45.4,271.60 M42.9,256.93 L45.4,256.93 M42.9,242.26 L45.4,242.26 M42.9,227.59 L45.4,227.59 M42.9,212.92 L45.4,212.92 M42.9,198.25 L45.4,198.25 M42.9,183.58 L45.4,183.58 M42.9,168.91 L45.4,168.91 M223.3,259.80 L225.8,259.80 M223.3,240.80 L225.8,240.80 M223.3,221.80 L225.8,221.80 M223.3,202.80 L225.8,202.80 M223.3,183.80 L225.8,183.80 M223.3,164.80 L225.8,164.80 M58.20,279.7 L58.20,281.2 M73.94,279.7 L73.94,281.2 M89.68,279.7 L89.68,281.2 M105.42,279.7 L105.42,281.2 M121.16,279.7 L121.16,281.2 M136.90,279.7 L136.90,281.2 M164.60,279.7 L164.60,281.2 M181.67,279.7 L181.67,281.2 M198.74,279.7 L198.74,281.2 M215.81,279.7 L215.81,281.2 " stroke="#333" stroke-width="0.8"/>
<text x="90.5" y="301" font-size="11.6" fill="#111" textLength="76.4" lengthAdjust="spacingAndGlyphs" font-family='"Liberation Serif", serif' font-weight="bold" stroke="#111" stroke-width="0.41">Wavelength (nm)</text>
<text transform="translate(22.0,227.7) rotate(-90)" font-size="10.8" fill="#111" text-anchor="middle" font-family='"Liberation Serif", serif' font-weight="bold" stroke="#111" stroke-width="0.38">Intensity (a.u.)</text>
<defs>
<linearGradient id="gUC" x1="0" y1="0" x2="0" y2="1"><stop offset="0" stop-color="#c9dcf2"/><stop offset="1" stop-color="#5b8fd0"/></linearGradient>
<linearGradient id="gDC" x1="0" y1="1" x2="0" y2="0"><stop offset="0" stop-color="#fbe3e6"/><stop offset="1" stop-color="#e8707c"/></linearGradient>
</defs>
<path d="M73.5,189.5 L77.3,189.5 L77.3,234.2 L80.2,234.2 L75.4,242.2 L70.6,234.2 L73.5,234.2 Z" fill="url(#gUC)"/>
<path d="M170.8,242 L174.4,242 L174.4,201.5 L176.3,201.5 L172.6,196.3 L168.9,201.5 L170.8,201.5 Z" fill="url(#gDC)"/>
<text x="56.4" y="182.2" font-size="8.6" fill="#4d8cc8" stroke="#4d8cc8" stroke-width="0.1" textLength="40.6" lengthAdjust="spacingAndGlyphs" font-family='"Liberation Sans", sans-serif'>UC emission</text>
<text x="171" y="186.2" font-size="8.6" fill="#e8884a" stroke="#e8884a" stroke-width="0.1" textLength="38.2" lengthAdjust="spacingAndGlyphs" font-family='"Liberation Sans", sans-serif'>Enhanced DC</text>
<text x="171" y="195.8" font-size="8.6" fill="#e8884a" stroke="#e8884a" stroke-width="0.1" textLength="29" lengthAdjust="spacingAndGlyphs" font-family='"Liberation Sans", sans-serif'>emission</text>
<rect x="126.4" y="166.5" width="33" height="32.7" fill="#fff" stroke="#bbb" stroke-width="0.7"/>
<path d="M127.3,171.10 L140.8,171.10" stroke="#e2474f" stroke-width="1" opacity="0.8"/>
<text x="158.4" y="172.70" font-size="4.6" fill="#222" text-anchor="end" font-family='"Liberation Serif", serif' font-weight="bold" stroke="#222" stroke-width="0.16">0% Ce</text>
<path d="M127.3,179.00 L140.8,179.00" stroke="#3f73b8" stroke-width="1" opacity="0.8"/>
<text x="158.4" y="180.60" font-size="4.6" fill="#222" text-anchor="end" font-family='"Liberation Serif", serif' font-weight="bold" stroke="#222" stroke-width="0.16">2% Ce</text>
<path d="M127.3,186.90 L140.8,186.90" stroke="#f2c445" stroke-width="1" opacity="0.8"/>
<text x="158.4" y="188.50" font-size="4.6" fill="#222" text-anchor="end" font-family='"Liberation Serif", serif' font-weight="bold" stroke="#222" stroke-width="0.16">5% Ce</text>
<path d="M127.3,194.80 L140.8,194.80" stroke="#55b88a" stroke-width="1" opacity="0.8"/>
<text x="158.4" y="196.40" font-size="4.6" fill="#222" text-anchor="end" font-family='"Liberation Serif", serif' font-weight="bold" stroke="#222" stroke-width="0.16">10% Ce</text>
<path d="M45.80,271.60 C47.93,271.60 59.49,271.73 61.80,271.60 C64.11,271.47 62.75,271.13 63.10,270.60 C63.45,270.07 64.12,268.13 64.40,267.60 C64.68,267.07 64.93,266.63 65.20,266.60 C65.47,266.57 66.07,267.37 66.40,267.40 C66.73,267.43 67.33,266.64 67.70,266.80 C68.07,266.96 68.87,268.64 69.20,268.60 C69.53,268.56 69.95,267.11 70.20,266.50 C70.45,265.89 70.81,264.20 71.10,264.00 C71.39,263.80 72.04,264.65 72.40,265.00 C72.76,265.35 73.43,266.25 73.80,266.60 C74.17,266.95 74.80,267.17 75.20,267.60 C75.60,268.03 76.39,269.27 76.80,269.80 C77.21,270.33 77.93,271.36 78.30,271.60 C78.67,271.84 79.43,271.60 79.60,271.60" fill="none" stroke="#f2c445" stroke-width="1.2" stroke-linejoin="round"/>
<path d="M79.60,271.60 L80.10,271.60 L80.60,271.60 L81.10,271.60 L81.60,271.60 L82.10,271.60 L82.60,271.60 L83.10,271.60 L83.60,271.60 L84.10,271.60 L84.60,271.60 L85.10,271.60 L85.60,271.60 L86.10,271.60 L86.60,271.60 L87.10,271.60 L87.60,271.60 L88.10,271.60 L88.60,271.60 L89.10,271.60 L89.60,271.60 L90.10,271.60 L90.60,271.60 L91.10,271.60 L91.60,271.60 L92.10,271.60 L92.60,271.60 L93.10,271.60 L93.60,271.60 L94.10,271.60 L94.60,271.60 L95.10,271.60 L95.60,271.60 L96.10,271.60 L96.60,271.60 L97.10,271.60 L97.60,271.60 L98.10,271.60 L98.60,271.60 L99.10,271.59 L99.60,271.59 L100.10,271.57 L100.60,271.55 L101.10,271.50 L101.60,271.42 L102.10,271.29 L102.60,271.10 L103.10,270.81 L103.60,270.43 L104.10,269.93 L104.60,269.32 L105.10,268.63 L105.60,267.89 L106.10,267.15 L106.60,266.44 L107.10,265.83 L107.60,265.34 L108.10,265.00 L108.60,264.82 L109.10,264.80 L109.60,264.95 L110.10,265.26 L110.60,265.72 L111.10,266.31 L111.60,267.00 L112.10,267.74 L112.60,268.49 L113.10,269.19 L113.60,269.82 L114.10,270.33 L114.60,270.74 L115.10,271.05 L115.60,271.26 L116.10,271.40 L116.60,271.49 L117.10,271.54 L117.60,271.57 L118.10,271.59 L118.60,271.59 L119.10,271.60 L119.60,271.60" fill="none" stroke="#f2c445" stroke-width="1.2"/>
<path d="M45.80,271.60 C47.89,271.60 59.26,271.73 61.50,271.60 C63.74,271.47 62.28,271.55 62.60,270.60 C62.92,269.65 63.55,265.75 63.90,264.50 C64.25,263.25 64.87,261.37 65.20,261.20 C65.53,261.03 66.07,263.20 66.40,263.20 C66.73,263.20 67.41,261.09 67.70,261.20 C67.99,261.31 68.37,263.29 68.60,264.00 C68.83,264.71 69.17,267.43 69.40,266.50 C69.63,265.57 70.07,259.33 70.30,257.00 C70.53,254.67 70.89,249.59 71.10,249.00 C71.31,248.41 71.67,251.60 71.90,252.60 C72.13,253.60 72.55,255.83 72.80,256.50 C73.05,257.17 73.56,257.40 73.80,257.60 C74.04,257.80 74.33,257.48 74.60,258.00 C74.87,258.52 75.47,260.30 75.80,261.50 C76.13,262.70 76.77,265.76 77.10,267.00 C77.43,268.24 77.97,270.19 78.30,270.80 C78.63,271.41 79.43,271.49 79.60,271.60" fill="none" stroke="#3f73b8" stroke-width="1.2" stroke-linejoin="round"/>
<path d="M79.60,271.60 L80.10,271.60 L80.60,271.60 L81.10,271.60 L81.60,271.60 L82.10,271.60 L82.60,271.60 L83.10,271.60 L83.60,271.60 L84.10,271.60 L84.60,271.60 L85.10,271.60 L85.60,271.60 L86.10,271.60 L86.60,271.60 L87.10,271.60 L87.60,271.60 L88.10,271.60 L88.60,271.60 L89.10,271.60 L89.60,271.60 L90.10,271.60 L90.60,271.60 L91.10,271.60 L91.60,271.60 L92.10,271.60 L92.60,271.60 L93.10,271.60 L93.60,271.60 L94.10,271.60 L94.60,271.60 L95.10,271.60 L95.60,271.60 L96.10,271.60 L96.60,271.60 L97.10,271.60 L97.60,271.60 L98.10,271.59 L98.60,271.59 L99.10,271.57 L99.60,271.53 L100.10,271.45 L100.60,271.31 L101.10,271.05 L101.60,270.61 L102.10,269.90 L102.60,268.82 L103.10,267.26 L103.60,265.12 L104.10,262.38 L104.60,259.05 L105.10,255.25 L105.60,251.16 L106.10,247.04 L106.60,243.17 L107.10,239.79 L107.60,237.09 L108.10,235.20 L108.60,234.20 L109.10,234.11 L109.60,234.93 L110.10,236.64 L110.60,239.19 L111.10,242.45 L111.60,246.24 L112.10,250.33 L112.60,254.44 L113.10,258.32 L113.60,261.76 L114.10,264.62 L114.60,266.88 L115.10,268.55 L115.60,269.72 L116.10,270.50 L116.60,270.98 L117.10,271.27 L117.60,271.43 L118.10,271.52 L118.60,271.56 L119.10,271.58 L119.60,271.59" fill="none" stroke="#3f73b8" stroke-width="1.2"/>
<path d="M45.80,271.60 C47.87,271.60 59.09,271.73 61.30,271.60 C63.51,271.47 62.11,271.88 62.40,270.60 C62.69,269.32 63.23,264.05 63.50,262.00 C63.77,259.95 64.17,256.31 64.40,255.20 C64.63,254.09 64.93,253.43 65.20,253.70 C65.47,253.97 66.07,257.23 66.40,257.20 C66.73,257.17 67.42,253.55 67.70,253.50 C67.98,253.45 68.29,255.60 68.50,256.80 C68.71,258.00 69.07,263.27 69.30,262.50 C69.53,261.73 69.96,253.84 70.20,251.00 C70.44,248.16 70.87,241.87 71.10,241.20 C71.33,240.53 71.69,244.76 71.90,246.00 C72.11,247.24 72.46,249.41 72.70,250.50 C72.94,251.59 73.45,253.56 73.70,254.20 C73.95,254.84 74.32,254.73 74.60,255.30 C74.88,255.87 75.48,257.14 75.80,258.50 C76.12,259.86 76.67,263.86 77.00,265.50 C77.33,267.14 77.95,269.99 78.30,270.80 C78.65,271.61 79.43,271.49 79.60,271.60" fill="none" stroke="#e2474f" stroke-width="1.2" stroke-linejoin="round"/>
<path d="M79.60,271.60 L80.10,271.60 L80.60,271.60 L81.10,271.60 L81.60,271.60 L82.10,271.60 L82.60,271.60 L83.10,271.60 L83.60,271.60 L84.10,271.60 L84.60,271.60 L85.10,271.60 L85.60,271.60 L86.10,271.60 L86.60,271.60 L87.10,271.60 L87.60,271.60 L88.10,271.60 L88.60,271.60 L89.10,271.60 L89.60,271.60 L90.10,271.60 L90.60,271.60 L91.10,271.60 L91.60,271.60 L92.10,271.60 L92.60,271.60 L93.10,271.60 L93.60,271.60 L94.10,271.60 L94.60,271.60 L95.10,271.60 L95.60,271.60 L96.10,271.60 L96.60,271.60 L97.10,271.60 L97.60,271.60 L98.10,271.59 L98.60,271.57 L99.10,271.53 L99.60,271.45 L100.10,271.28 L100.60,270.96 L101.10,270.39 L101.60,269.42 L102.10,267.84 L102.60,265.45 L103.10,261.98 L103.60,257.26 L104.10,251.19 L104.60,243.82 L105.10,235.40 L105.60,226.36 L106.10,217.25 L106.60,208.68 L107.10,201.18 L107.60,195.21 L108.10,191.04 L108.60,188.82 L109.10,188.61 L109.60,190.43 L110.10,194.22 L110.60,199.86 L111.10,207.07 L111.60,215.47 L112.10,224.52 L112.60,233.63 L113.10,242.21 L113.60,249.82 L114.10,256.16 L114.60,261.15 L115.10,264.85 L115.60,267.44 L116.10,269.16 L116.60,270.23 L117.10,270.87 L117.60,271.23 L118.10,271.42 L118.60,271.52 L119.10,271.56 L119.60,271.58" fill="none" stroke="#e2474f" stroke-width="1.2"/>
<path d="M45.80,271.60 L46.30,271.60 L46.80,271.60 L47.30,271.60 L47.80,271.60 L48.30,271.60 L48.80,271.60 L49.30,271.60 L49.80,271.60 L50.30,271.60 L50.80,271.60 L51.30,271.60 L51.80,271.60 L52.30,271.60 L52.80,271.60 L53.30,271.60 L53.80,271.60 L54.30,271.60 L54.80,271.60 L55.30,271.60 L55.80,271.60 L56.30,271.60 L56.80,271.60 L57.30,271.60 L57.80,271.60 L58.30,271.60 L58.80,271.60 L59.30,271.60 L59.80,271.60 L60.30,271.60 L60.80,271.60 L61.30,271.60 L61.80,271.60 L62.30,271.60 L62.80,271.60 L63.30,271.60 L63.80,271.60 L64.30,271.60 L64.80,271.60 L65.30,271.60 L65.80,271.60 L66.30,271.60 L66.80,271.60 L67.30,271.60 L67.80,271.60 L68.30,271.60 L68.80,271.60 L69.30,271.60 L69.80,271.60 L70.30,271.60 L70.80,271.60 L71.30,271.60 L71.80,271.60 L72.30,271.60 L72.80,271.60 L73.30,271.60 L73.80,271.60 L74.30,271.60 L74.80,271.60 L75.30,271.60 L75.80,271.60 L76.30,271.60 L76.80,271.60 L77.30,271.60 L77.80,271.60 L78.30,271.60 L78.80,271.60 L79.30,271.60 L79.80,271.60 L80.30,271.60 L80.80,271.60 L81.30,271.60 L81.80,271.60 L82.30,271.60 L82.80,271.60 L83.30,271.60 L83.80,271.60 L84.30,271.60 L84.80,271.60 L85.30,271.60 L85.80,271.60 L86.30,271.60 L86.80,271.60 L87.30,271.60 L87.80,271.60 L88.30,271.60 L88.80,271.60 L89.30,271.60 L89.80,271.60 L90.30,271.60 L90.80,271.60 L91.30,271.60 L91.80,271.60 L92.30,271.60 L92.80,271.60 L93.30,271.60 L93.80,271.60 L94.30,271.60 L94.80,271.60 L95.30,271.60 L95.80,271.60 L96.30,271.60 L96.80,271.60 L97.30,271.60 L97.80,271.60 L98.30,271.60 L98.80,271.60 L99.30,271.60 L99.80,271.60 L100.30,271.60 L100.80,271.60 L101.30,271.60 L101.80,271.60 L102.30,271.60 L102.80,271.60 L103.30,271.60 L103.80,271.60 L104.30,271.60 L104.80,271.60 L105.30,271.60 L105.80,271.60 L106.30,271.60 L106.80,271.60 L107.30,271.60 L107.80,271.60 L108.30,271.60 L108.80,271.60 L109.30,271.60 L109.80,271.60 L110.30,271.60 L110.80,271.60 L111.30,271.60 L111.80,271.60 L112.30,271.60 L112.80,271.60 L113.30,271.60 L113.80,271.60 L114.30,271.60 L114.80,271.60 L115.30,271.60 L115.80,271.60 L116.30,271.60 L116.80,271.60 L117.30,271.60 L117.80,271.60 L118.30,271.60 L118.80,271.60 L119.30,271.60" fill="none" stroke="#55b88a" stroke-width="1.3"/>
<path d="M149.30,268.80 L149.80,268.80 L150.30,268.80 L150.80,268.80 L151.30,268.80 L151.80,268.80 L152.30,268.80 L152.80,268.80 L153.30,268.80 L153.80,268.80 L154.30,268.80 L154.80,268.80 L155.30,268.80 L155.80,268.80 L156.30,268.80 L156.80,268.80 L157.30,268.80 L157.80,268.80 L158.30,268.80 L158.80,268.80 L159.30,268.80 L159.80,268.80 L160.30,268.80 L160.80,268.80 L161.30,268.80 L161.80,268.80 L162.30,268.80 L162.80,268.79 L163.30,268.79 L163.80,268.79 L164.30,268.78 L164.80,268.78 L165.30,268.77 L165.80,268.75 L166.30,268.74 L166.80,268.71 L167.30,268.68 L167.80,268.65 L168.30,268.60 L168.80,268.53 L169.30,268.45 L169.80,268.35 L170.30,268.22 L170.80,268.06 L171.30,267.87 L171.80,267.63 L172.30,267.35 L172.80,267.00 L173.30,266.60 L173.80,266.12 L174.30,265.56 L174.80,264.91 L175.30,264.17 L175.80,263.33 L176.30,262.38 L176.80,261.32 L177.30,260.15 L177.80,258.88 L178.30,257.49 L178.80,255.98 L179.30,254.33 L179.80,252.47 L180.30,250.26 L180.80,247.46 L181.30,243.76 L181.80,238.81 L182.30,232.46 L182.80,224.93 L183.30,216.94 L183.80,209.62 L184.30,204.15 L184.80,201.27 L185.30,200.93 L185.80,202.35 L186.30,204.35 L186.80,206.01 L187.30,206.98 L187.80,207.55 L188.30,208.43 L188.80,210.29 L189.30,213.52 L189.80,218.05 L190.30,223.46 L190.80,229.19 L191.30,234.69 L191.80,239.60 L192.30,243.74 L192.80,247.14 L193.30,249.92 L193.80,252.22 L194.30,254.18 L194.80,255.90 L195.30,257.45 L195.80,258.86 L196.30,260.15 L196.80,261.32 L197.30,262.38 L197.80,263.33 L198.30,264.17 L198.80,264.91 L199.30,265.56 L199.80,266.12 L200.30,266.60 L200.80,267.00 L201.30,267.35 L201.80,267.63 L202.30,267.87 L202.80,268.06 L203.30,268.22 L203.80,268.35 L204.30,268.45 L204.80,268.53 L205.30,268.60 L205.80,268.65 L206.30,268.68 L206.80,268.71 L207.30,268.74 L207.80,268.75 L208.30,268.77 L208.80,268.78 L209.30,268.78 L209.80,268.79 L210.30,268.79 L210.80,268.79 L211.30,268.80 L211.80,268.80 L212.30,268.80 L212.80,268.80 L213.30,268.80 L213.80,268.80 L214.30,268.80 L214.80,268.80 L215.30,268.80 L215.80,268.80 L216.30,268.80 L216.80,268.80 L217.30,268.80" fill="none" stroke="#f2c445" stroke-width="1.25"/>
<path d="M149.30,269.70 L149.80,269.70 L150.30,269.70 L150.80,269.70 L151.30,269.70 L151.80,269.70 L152.30,269.70 L152.80,269.70 L153.30,269.70 L153.80,269.70 L154.30,269.70 L154.80,269.70 L155.30,269.70 L155.80,269.70 L156.30,269.70 L156.80,269.70 L157.30,269.70 L157.80,269.70 L158.30,269.70 L158.80,269.70 L159.30,269.70 L159.80,269.70 L160.30,269.70 L160.80,269.70 L161.30,269.70 L161.80,269.70 L162.30,269.70 L162.80,269.70 L163.30,269.69 L163.80,269.69 L164.30,269.69 L164.80,269.68 L165.30,269.67 L165.80,269.66 L166.30,269.65 L166.80,269.63 L167.30,269.61 L167.80,269.58 L168.30,269.54 L168.80,269.49 L169.30,269.43 L169.80,269.35 L170.30,269.25 L170.80,269.13 L171.30,268.98 L171.80,268.79 L172.30,268.57 L172.80,268.30 L173.30,267.98 L173.80,267.61 L174.30,267.17 L174.80,266.67 L175.30,266.09 L175.80,265.43 L176.30,264.70 L176.80,263.87 L177.30,262.96 L177.80,261.97 L178.30,260.88 L178.80,259.71 L179.30,258.43 L179.80,256.98 L180.30,255.25 L180.80,253.07 L181.30,250.18 L181.80,246.32 L182.30,241.38 L182.80,235.51 L183.30,229.28 L183.80,223.57 L184.30,219.31 L184.80,217.07 L185.30,216.80 L185.80,217.90 L186.30,219.47 L186.80,220.76 L187.30,221.51 L187.80,221.96 L188.30,222.65 L188.80,224.10 L189.30,226.61 L189.80,230.14 L190.30,234.36 L190.80,238.83 L191.30,243.12 L191.80,246.94 L192.30,250.17 L192.80,252.82 L193.30,254.98 L193.80,256.77 L194.30,258.30 L194.80,259.65 L195.30,260.85 L195.80,261.95 L196.30,262.96 L196.80,263.87 L197.30,264.69 L197.80,265.43 L198.30,266.09 L198.80,266.67 L199.30,267.17 L199.80,267.61 L200.30,267.98 L200.80,268.30 L201.30,268.57 L201.80,268.79 L202.30,268.98 L202.80,269.13 L203.30,269.25 L203.80,269.35 L204.30,269.43 L204.80,269.49 L205.30,269.54 L205.80,269.58 L206.30,269.61 L206.80,269.63 L207.30,269.65 L207.80,269.66 L208.30,269.67 L208.80,269.68 L209.30,269.69 L209.80,269.69 L210.30,269.69 L210.80,269.70 L211.30,269.70 L211.80,269.70 L212.30,269.70 L212.80,269.70 L213.30,269.70 L213.80,269.70 L214.30,269.70 L214.80,269.70 L215.30,269.70 L215.80,269.70 L216.30,269.70 L216.80,269.70 L217.30,269.70" fill="none" stroke="#55b88a" stroke-width="1.25"/>
<path d="M149.30,269.70 L149.80,269.70 L150.30,269.70 L150.80,269.70 L151.30,269.70 L151.80,269.70 L152.30,269.70 L152.80,269.70 L153.30,269.70 L153.80,269.70 L154.30,269.70 L154.80,269.70 L155.30,269.70 L155.80,269.70 L156.30,269.70 L156.80,269.70 L157.30,269.70 L157.80,269.70 L158.30,269.70 L158.80,269.70 L159.30,269.70 L159.80,269.70 L160.30,269.70 L160.80,269.70 L161.30,269.70 L161.80,269.70 L162.30,269.70 L162.80,269.70 L163.30,269.69 L163.80,269.69 L164.30,269.69 L164.80,269.69 L165.30,269.68 L165.80,269.67 L166.30,269.66 L166.80,269.65 L167.30,269.63 L167.80,269.61 L168.30,269.58 L168.80,269.55 L169.30,269.50 L169.80,269.44 L170.30,269.37 L170.80,269.28 L171.30,269.17 L171.80,269.04 L172.30,268.88 L172.80,268.68 L173.30,268.45 L173.80,268.18 L174.30,267.86 L174.80,267.50 L175.30,267.08 L175.80,266.60 L176.30,266.06 L176.80,265.47 L177.30,264.81 L177.80,264.08 L178.30,263.30 L178.80,262.44 L179.30,261.51 L179.80,260.46 L180.30,259.20 L180.80,257.62 L181.30,255.52 L181.80,252.72 L182.30,249.13 L182.80,244.86 L183.30,240.34 L183.80,236.19 L184.30,233.10 L184.80,231.47 L185.30,231.28 L185.80,232.08 L186.30,233.21 L186.80,234.15 L187.30,234.70 L187.80,235.02 L188.30,235.52 L188.80,236.58 L189.30,238.40 L189.80,240.96 L190.30,244.03 L190.80,247.27 L191.30,250.39 L191.80,253.17 L192.30,255.51 L192.80,257.44 L193.30,259.01 L193.80,260.31 L194.30,261.42 L194.80,262.40 L195.30,263.27 L195.80,264.07 L196.30,264.80 L196.80,265.46 L197.30,266.06 L197.80,266.60 L198.30,267.08 L198.80,267.50 L199.30,267.86 L199.80,268.18 L200.30,268.45 L200.80,268.68 L201.30,268.88 L201.80,269.04 L202.30,269.17 L202.80,269.28 L203.30,269.37 L203.80,269.44 L204.30,269.50 L204.80,269.55 L205.30,269.58 L205.80,269.61 L206.30,269.63 L206.80,269.65 L207.30,269.66 L207.80,269.67 L208.30,269.68 L208.80,269.69 L209.30,269.69 L209.80,269.69 L210.30,269.69 L210.80,269.70 L211.30,269.70 L211.80,269.70 L212.30,269.70 L212.80,269.70 L213.30,269.70 L213.80,269.70 L214.30,269.70 L214.80,269.70 L215.30,269.70 L215.80,269.70 L216.30,269.70 L216.80,269.70 L217.30,269.70" fill="none" stroke="#3f73b8" stroke-width="1.25"/>
<path d="M149.30,269.70 L149.80,269.70 L150.30,269.70 L150.80,269.70 L151.30,269.70 L151.80,269.70 L152.30,269.70 L152.80,269.70 L153.30,269.70 L153.80,269.70 L154.30,269.70 L154.80,269.70 L155.30,269.70 L155.80,269.70 L156.30,269.70 L156.80,269.70 L157.30,269.70 L157.80,269.70 L158.30,269.70 L158.80,269.70 L159.30,269.70 L159.80,269.70 L160.30,269.70 L160.80,269.70 L161.30,269.70 L161.80,269.70 L162.30,269.70 L162.80,269.70 L163.30,269.70 L163.80,269.70 L164.30,269.69 L164.80,269.69 L165.30,269.69 L165.80,269.69 L166.30,269.68 L166.80,269.67 L167.30,269.66 L167.80,269.65 L168.30,269.64 L168.80,269.62 L169.30,269.59 L169.80,269.56 L170.30,269.52 L170.80,269.47 L171.30,269.41 L171.80,269.34 L172.30,269.25 L172.80,269.15 L173.30,269.02 L173.80,268.87 L174.30,268.70 L174.80,268.50 L175.30,268.27 L175.80,268.01 L176.30,267.72 L176.80,267.39 L177.30,267.03 L177.80,266.64 L178.30,266.21 L178.80,265.74 L179.30,265.23 L179.80,264.66 L180.30,263.98 L180.80,263.11 L181.30,261.97 L181.80,260.44 L182.30,258.48 L182.80,256.15 L183.30,253.68 L183.80,251.42 L184.30,249.73 L184.80,248.84 L185.30,248.74 L185.80,249.18 L186.30,249.80 L186.80,250.31 L187.30,250.61 L187.80,250.78 L188.30,251.06 L188.80,251.63 L189.30,252.63 L189.80,254.03 L190.30,255.70 L190.80,257.47 L191.30,259.17 L191.80,260.68 L192.30,261.96 L192.80,263.01 L193.30,263.87 L193.80,264.58 L194.30,265.18 L194.80,265.72 L195.30,266.20 L195.80,266.63 L196.30,267.03 L196.80,267.39 L197.30,267.72 L197.80,268.01 L198.30,268.27 L198.80,268.50 L199.30,268.70 L199.80,268.87 L200.30,269.02 L200.80,269.15 L201.30,269.25 L201.80,269.34 L202.30,269.41 L202.80,269.47 L203.30,269.52 L203.80,269.56 L204.30,269.59 L204.80,269.62 L205.30,269.64 L205.80,269.65 L206.30,269.66 L206.80,269.67 L207.30,269.68 L207.80,269.69 L208.30,269.69 L208.80,269.69 L209.30,269.69 L209.80,269.70 L210.30,269.70 L210.80,269.70 L211.30,269.70 L211.80,269.70 L212.30,269.70 L212.80,269.70 L213.30,269.70 L213.80,269.70 L214.30,269.70 L214.80,269.70 L215.30,269.70 L215.80,269.70 L216.30,269.70 L216.80,269.70 L217.30,269.70" fill="none" stroke="#e2474f" stroke-width="1.25"/>
<text x="257.0" y="163.3" font-size="10.5" fill="#000" text-anchor="start" font-family='"Liberation Serif", serif' font-weight="normal" stroke="none">(d)</text>
<path d="M280.3,157.7 L280.3,279.6" stroke="#555" stroke-width="0.9"/>
<path d="M277.3,279.60 L280.3,279.60 M277.3,248.60 L280.3,248.60 M277.3,217.60 L280.3,217.60 M277.3,186.60 L280.3,186.60 M278.5,264.10 L280.3,264.10 M278.5,233.10 L280.3,233.10 M278.5,202.10 L280.3,202.10 M278.5,171.10 L280.3,171.10 M280.3,279.60 L282.3,279.60 " stroke="#555" stroke-width="0.8"/>
<text x="275.6" y="282.20" font-size="9" fill="#444" stroke="#444" stroke-width="0.1" text-anchor="end" font-family='"Liberation Sans", sans-serif'>0</text>
<text x="275.6" y="251.20" font-size="9" fill="#444" stroke="#444" stroke-width="0.1" text-anchor="end" font-family='"Liberation Sans", sans-serif'>5</text>
<text x="275.6" y="220.20" font-size="9" fill="#444" stroke="#444" stroke-width="0.1" text-anchor="end" font-family='"Liberation Sans", sans-serif'>10</text>
<text x="275.6" y="189.20" font-size="9" fill="#444" stroke="#444" stroke-width="0.1" text-anchor="end" font-family='"Liberation Sans", sans-serif'>15</text>
<text transform="translate(259.6,220.1) rotate(-90)" font-size="8.5" fill="#444" stroke="none" text-anchor="middle" font-family='"Liberation Sans", sans-serif'>Energy (10<tspan font-size="6" dy="-3">3</tspan><tspan dy="3"> cm</tspan><tspan font-size="6" dy="-3">-1</tspan><tspan dy="3">)</tspan></text>
<path d="M295.8,218.3 L305.8,218.3" stroke="#333" stroke-width="1.1"/>
<path d="M296.3,279.3 L306.0,279.3" stroke="#333" stroke-width="1.1"/>
<text stroke="none" x="295.2" y="219.0" font-size="8.0" fill="#333" text-anchor="end" font-family='"Liberation Sans", sans-serif'><tspan font-size="4.96" dy="-2.6">2</tspan><tspan dy="2.6">F</tspan><tspan font-size="4.96" dy="1.6">5/2</tspan></text>
<text stroke="none" x="295.6" y="281.2" font-size="8.0" fill="#333" text-anchor="end" font-family='"Liberation Sans", sans-serif'><tspan font-size="4.96" dy="-2.6">2</tspan><tspan dy="2.6">F</tspan><tspan font-size="4.96" dy="1.6">7/2</tspan></text>
<text stroke="none" x="301" y="290.3" font-size="8.2" fill="#333" text-anchor="middle" font-family='"Liberation Sans", sans-serif'>Yb<tspan font-size="5.4" dy="-3">3+</tspan></text>
<path d="M326.2,161.4 L354.6,161.4" stroke="#333" stroke-width="1.1"/>
<path d="M326.2,183.7 L354.6,183.7" stroke="#333" stroke-width="1.1"/>
<path d="M326.2,215.1 L354.6,215.1" stroke="#333" stroke-width="1.1"/>
<path d="M326.2,238.4 L354.6,238.4" stroke="#333" stroke-width="1.1"/>
<path d="M326.2,279.3 L354.6,279.3" stroke="#333" stroke-width="1.1"/>
<text stroke="none" x="325" y="163.5" font-size="7.5" fill="#333" text-anchor="end" font-family='"Liberation Sans", sans-serif'><tspan font-size="4.6" dy="-2.6">2</tspan><tspan dy="2.6">H</tspan><tspan font-size="4.6" dy="1.6">11/2</tspan><tspan dy="-1.6">, </tspan><tspan font-size="4.6" dy="-2.6">4</tspan><tspan dy="2.6">S</tspan><tspan font-size="4.6" dy="1.6">3/2</tspan></text>
<text stroke="none" x="325" y="186.0" font-size="8.0" fill="#333" text-anchor="end" font-family='"Liberation Sans", sans-serif'><tspan font-size="4.96" dy="-2.6">4</tspan><tspan dy="2.6">F</tspan><tspan font-size="4.96" dy="1.6">9/2</tspan></text>
<text stroke="none" x="325" y="217.6" font-size="8.0" fill="#333" text-anchor="end" font-family='"Liberation Sans", sans-serif'><tspan font-size="4.96" dy="-2.6">4</tspan><tspan dy="2.6">I</tspan><tspan font-size="4.96" dy="1.6">11/2</tspan></text>
<text stroke="none" x="325" y="241.0" font-size="8.0" fill="#333" text-anchor="end" font-family='"Liberation Sans", sans-serif'><tspan font-size="4.96" dy="-2.6">4</tspan><tspan dy="2.6">I</tspan><tspan font-size="4.96" dy="1.6">13/2</tspan></text>
<text stroke="none" x="325" y="281.6" font-size="8.0" fill="#333" text-anchor="end" font-family='"Liberation Sans", sans-serif'><tspan font-size="4.96" dy="-2.6">4</tspan><tspan dy="2.6">I</tspan><tspan font-size="4.96" dy="1.6">15/2</tspan></text>
<text stroke="none" x="340.5" y="290.3" font-size="8.2" fill="#333" text-anchor="middle" font-family='"Liberation Sans", sans-serif'>Er<tspan font-size="5.4" dy="-3">3+</tspan></text>
<path d="M367.9,265.5 L377.0,265.5" stroke="#333" stroke-width="1.1"/>
<path d="M367.9,279.3 L377.0,279.3" stroke="#333" stroke-width="1.1"/>
<text stroke="none" x="378.6" y="264.0" font-size="7.6" fill="#333" font-family='"Liberation Sans", sans-serif'><tspan font-size="4.7" dy="-2.6">2</tspan><tspan dy="2.6">F</tspan><tspan font-size="4.7" dy="1.6">7/2</tspan></text>
<text stroke="none" x="378.6" y="282.3" font-size="7.6" fill="#333" font-family='"Liberation Sans", sans-serif'><tspan font-size="4.7" dy="-2.6">2</tspan><tspan dy="2.6">F</tspan><tspan font-size="4.7" dy="1.6">5/2</tspan></text>
<text stroke="none" x="372.5" y="290.3" font-size="8.2" fill="#333" text-anchor="middle" font-family='"Liberation Sans", sans-serif'>Ce<tspan font-size="5.4" dy="-3">3+</tspan></text>
<path d="M297.2,276 L297.2,226 L300.8,226 L300.8,276 Z" fill="#f2a4ac" stroke="#e87080" stroke-width="0.5"/>
<path d="M296.6,226.5 L299.0,219.6 L301.4,226.5 Z" fill="#fff" stroke="#e2505e" stroke-width="0.9"/>
<text stroke="none" transform="translate(296.3,248.2) rotate(-90)" font-size="6.0" fill="#e06090" text-anchor="middle" font-family='"Liberation Sans", sans-serif'>980 nm excited</text>
<path d="M303.2,219 L303.2,273" stroke="#777" stroke-width="0.8"/><path d="M301.6,272.5 L304.8,272.5 L303.2,278.5 Z" fill="#111"/>
<path d="M330.8,279 L330.8,221" stroke="#777" stroke-width="0.8"/><path d="M329.2,221.5 L332.4,221.5 L330.8,215.6 Z" fill="#111"/>
<path d="M335.3,279 L335.3,167" stroke="#d8308a" stroke-width="0.9"/><path d="M333.7,167.5 L336.9,167.5 L335.3,161.8 Z" fill="#d8308a"/>
<path d="M338.0,162 L338.0,273" stroke="#d8308a" stroke-width="0.9"/><path d="M336.4,272.5 L339.6,272.5 L338.0,278.8 Z" fill="#d8308a"/>
<text x="341.0" y="175.6" font-size="9.3" fill="#d2418c" stroke="none" textLength="49" lengthAdjust="spacingAndGlyphs" font-family='"Liberation Sans", sans-serif'>Upconversion</text>
<path d="M348.3,215.4 L348.3,233" stroke="#8a5ab0" stroke-width="0.9"/><path d="M346.7,232.8 L349.9,232.8 L348.3,238.3 Z" fill="#5a2a80"/>
<path d="M346.2,238.6 L351.1,238.6 L351.1,271.3 L354.4,271.3 L348.65,278.9 L342.9,271.3 L346.2,271.3 Z" fill="#6c1c8c" stroke="#9a68b8" stroke-width="0.5"/>
<text stroke="none" transform="translate(347.2,255) rotate(90)" font-size="4.3" fill="#e0d0f4" text-anchor="middle" font-family='"Liberation Sans", sans-serif'>Downconversion</text>
<path d="M372.5,279 L372.5,268.5" stroke="#8a5ab0" stroke-width="0.7"/><path d="M371.3,269 L373.7,269 L372.5,265.8 Z" fill="#5a2a80"/>
<path d="M303.4,217 C306.5,201.5 325,199.5 330.3,214.2" fill="none" stroke="#555" stroke-width="0.7" stroke-dasharray="1.6,1.2"/>
<path d="M348,214.2 C352,204 367,201 372.5,264.5" fill="none" stroke="#555" stroke-width="0.7" stroke-dasharray="1.6,1.2"/>
<text x="399.6" y="162.0" font-size="10.5" fill="#000" text-anchor="start" font-family='"Liberation Serif", serif' font-weight="normal" stroke="none">(e)</text>
<rect x="417.3" y="163.6" width="111.49999999999994" height="110.20000000000002" fill="none" stroke="#9a9a9a" stroke-width="0.8"/>
<path d="M417.47,273.8 L417.47,275.0 M426.80,273.8 L426.80,275.8 M436.13,273.8 L436.13,275.0 M445.46,273.8 L445.46,275.8 M454.79,273.8 L454.79,275.0 M464.12,273.8 L464.12,275.8 M473.45,273.8 L473.45,275.0 M482.78,273.8 L482.78,275.8 M492.11,273.8 L492.11,275.0 M501.44,273.8 L501.44,275.8 M510.77,273.8 L510.77,275.0 M520.10,273.8 L520.10,275.8 M529.43,273.8 L529.43,275.0 " stroke="#777" stroke-width="0.6"/>
<text x="419.90" y="285.0" font-size="6.6" fill="#555" stroke="#555" stroke-width="0.08" textLength="13.8" lengthAdjust="spacingAndGlyphs" font-family='"Liberation Sans", sans-serif'>1,200</text>
<text x="438.56" y="285.0" font-size="6.6" fill="#555" stroke="#555" stroke-width="0.08" textLength="13.8" lengthAdjust="spacingAndGlyphs" font-family='"Liberation Sans", sans-serif'>1,300</text>
<text x="457.22" y="285.0" font-size="6.6" fill="#555" stroke="#555" stroke-width="0.08" textLength="13.8" lengthAdjust="spacingAndGlyphs" font-family='"Liberation Sans", sans-serif'>1,400</text>
<text x="475.88" y="285.0" font-size="6.6" fill="#555" stroke="#555" stroke-width="0.08" textLength="13.8" lengthAdjust="spacingAndGlyphs" font-family='"Liberation Sans", sans-serif'>1,500</text>
<text x="494.54" y="285.0" font-size="6.6" fill="#555" stroke="#555" stroke-width="0.08" textLength="13.8" lengthAdjust="spacingAndGlyphs" font-family='"Liberation Sans", sans-serif'>1,600</text>
<text x="513.20" y="285.0" font-size="6.6" fill="#555" stroke="#555" stroke-width="0.08" textLength="13.8" lengthAdjust="spacingAndGlyphs" font-family='"Liberation Sans", sans-serif'>1,700</text>
<text x="450.2" y="293.6" font-size="6.8" fill="#555" stroke="#555" stroke-width="0.08" textLength="46.3" lengthAdjust="spacingAndGlyphs" font-family='"Liberation Sans", sans-serif'>Wavelength (a.u.)</text>
<text transform="translate(413.4,218.0) rotate(-90)" font-size="5.9" fill="#555" stroke="none" text-anchor="middle" font-family='"Liberation Sans", sans-serif'>Intensity (a.u.)</text>
<path d="M420.4,169.90 L433.9,169.90" stroke="#f0a040" stroke-width="1.1"/>
<text x="436.2" y="172.20" font-size="6.8" fill="#444" stroke="none" textLength="21.8" lengthAdjust="spacingAndGlyphs" font-family='"Liberation Sans", sans-serif'>0% Zn<tspan font-size="4" dy="-2.4">2+</tspan></text>
<path d="M420.4,177.80 L433.9,177.80" stroke="#d8508a" stroke-width="1.1"/>
<text x="436.2" y="180.10" font-size="6.8" fill="#444" stroke="none" textLength="21.8" lengthAdjust="spacingAndGlyphs" font-family='"Liberation Sans", sans-serif'>5% Zn<tspan font-size="4" dy="-2.4">2+</tspan></text>
<path d="M420.4,185.70 L433.9,185.70" stroke="#a6ad5a" stroke-width="1.1"/>
<text x="436.2" y="188.00" font-size="6.8" fill="#444" stroke="none" textLength="26.6" lengthAdjust="spacingAndGlyphs" font-family='"Liberation Sans", sans-serif'>7.5% Zn<tspan font-size="4" dy="-2.4">2+</tspan></text>
<path d="M420.4,193.60 L433.9,193.60" stroke="#7a6cc8" stroke-width="1.1"/>
<text x="436.2" y="195.90" font-size="6.8" fill="#444" stroke="none" textLength="25.2" lengthAdjust="spacingAndGlyphs" font-family='"Liberation Sans", sans-serif'>10% Zn<tspan font-size="4" dy="-2.4">2+</tspan></text>
<path d="M420.4,201.50 L433.9,201.50" stroke="#7a5a8e" stroke-width="1.1"/>
<text x="436.2" y="203.80" font-size="6.8" fill="#444" stroke="none" textLength="30.0" lengthAdjust="spacingAndGlyphs" font-family='"Liberation Sans", sans-serif'>12.5% Zn<tspan font-size="4" dy="-2.4">2+</tspan></text>
<path d="M420.4,209.40 L433.9,209.40" stroke="#3fa06e" stroke-width="1.1"/>
<text x="436.2" y="211.70" font-size="6.8" fill="#444" stroke="none" textLength="25.2" lengthAdjust="spacingAndGlyphs" font-family='"Liberation Sans", sans-serif'>15% Zn<tspan font-size="4" dy="-2.4">2+</tspan></text>
<defs>
<linearGradient id="gY" x1="0" y1="0" x2="1" y2="0"><stop offset="0" stop-color="#d86010"/><stop offset="0.2" stop-color="#f0a828"/><stop offset="0.5" stop-color="#f8c838"/><stop offset="0.8" stop-color="#f0a828"/><stop offset="1" stop-color="#d86010"/></linearGradient>
<linearGradient id="gR" x1="0" y1="0" x2="1" y2="0"><stop offset="0" stop-color="#c02808"/><stop offset="0.2" stop-color="#e84818"/><stop offset="0.5" stop-color="#f05a20"/><stop offset="0.8" stop-color="#e84818"/><stop offset="1" stop-color="#c02808"/></linearGradient>
</defs>
<rect x="423.2" y="217.7" width="18.19999999999999" height="41.3" fill="#1e0805"/>
<path d="M425.8,249 L425.8,259 L427.2,259 L427.2,249.8 Z M439.2,248.8 L439.2,259 L437.8,259 L437.8,249.8 Z" fill="#5a1206"/>
<path d="M425.8,221.6 L439.2,221.6 L439.2,248.8 C439.2,245.3 436.2,244.3 432.5,244.3 C428.8,244.3 425.8,245.3 425.8,248.8 Z" fill="url(#gY)"/>
<path d="M426.1,222.2 L438.9,222.2" stroke="#fff4c0" stroke-width="1.4"/>
<path d="M438.9,248.8 C438.9,245.60000000000002 436.2,244.70000000000002 432.5,244.70000000000002 C428.8,244.70000000000002 426.1,245.60000000000002 426.1,248.8" fill="none" stroke="#ffe890" stroke-width="0.9"/>
<rect x="452.1" y="217.7" width="18.399999999999977" height="41.3" fill="#1e0805"/>
<path d="M454.5,249 L454.5,259 L455.9,259 L455.9,247.7 Z M469.2,246.7 L469.2,259 L467.8,259 L467.8,247.7 Z" fill="#5a1206"/>
<path d="M454.5,221.6 L469.2,221.6 L469.2,246.7 C469.2,243.2 466.2,242.2 461.85,242.2 C457.5,242.2 454.5,243.2 454.5,246.7 Z" fill="url(#gR)"/>
<path d="M454.8,222.2 L468.9,222.2" stroke="#fff4c0" stroke-width="1.4"/>
<path d="M468.9,246.7 C468.9,243.5 466.2,242.6 461.85,242.6 C457.5,242.6 454.8,243.5 454.8,246.7" fill="none" stroke="#ffd070" stroke-width="0.9"/>
<text x="420.9" y="267.4" font-size="6.8" fill="#444" stroke="none" textLength="23.5" lengthAdjust="spacingAndGlyphs" font-family='"Liberation Sans", sans-serif'>10% Zn<tspan font-size="4.2" dy="-2.6">2+</tspan></text>
<text x="452.6" y="267.4" font-size="6.8" fill="#444" stroke="none" textLength="19.3" lengthAdjust="spacingAndGlyphs" font-family='"Liberation Sans", sans-serif'>no Zn<tspan font-size="4.2" dy="-2.6">2+</tspan></text>
<path d="M418.00,273.30 L418.50,273.30 L419.00,273.30 L419.50,273.30 L420.00,273.30 L420.50,273.30 L421.00,273.30 L421.50,273.30 L422.00,273.30 L422.50,273.30 L423.00,273.30 L423.50,273.30 L424.00,273.30 L424.50,273.30 L425.00,273.30 L425.50,273.30 L426.00,273.30 L426.50,273.30 L427.00,273.30 L427.50,273.30 L428.00,273.30 L428.50,273.30 L429.00,273.30 L429.50,273.30 L430.00,273.30 L430.50,273.30 L431.00,273.30 L431.50,273.30 L432.00,273.30 L432.50,273.30 L433.00,273.30 L433.50,273.30 L434.00,273.30 L434.50,273.30 L435.00,273.30 L435.50,273.30 L436.00,273.30 L436.50,273.30 L437.00,273.30 L437.50,273.30 L438.00,273.30 L438.50,273.30 L439.00,273.30 L439.50,273.30 L440.00,273.30 L440.50,273.30 L441.00,273.30 L441.50,273.30 L442.00,273.30 L442.50,273.30 L443.00,273.30 L443.50,273.30 L444.00,273.30 L444.50,273.30 L445.00,273.30 L445.50,273.30 L446.00,273.30 L446.50,273.30 L447.00,273.30 L447.50,273.30 L448.00,273.30 L448.50,273.30 L449.00,273.30 L449.50,273.30 L450.00,273.30 L450.50,273.30 L451.00,273.30 L451.50,273.30 L452.00,273.30 L452.50,273.30 L453.00,273.30 L453.50,273.30 L454.00,273.30 L454.50,273.30 L455.00,273.30 L455.50,273.30 L456.00,273.30 L456.50,273.30 L457.00,273.30 L457.50,273.30 L458.00,273.30 L458.50,273.30 L459.00,273.30 L459.50,273.30 L460.00,273.29 L460.50,273.28 L461.00,273.26 L461.50,273.24 L462.00,273.21 L462.50,273.18 L463.00,273.15 L463.50,273.12 L464.00,273.09 L464.50,273.05 L465.00,273.01 L465.50,272.98 L466.00,272.94 L466.50,272.90 L467.00,272.87 L467.50,272.84 L468.00,272.81 L468.50,272.78 L469.00,272.76 L469.50,272.74 L470.00,272.72 L470.50,272.71 L471.00,272.71 L471.50,272.68 L472.00,272.57 L472.50,272.38 L473.00,272.15 L473.50,271.88 L474.00,271.59 L474.50,271.30 L475.00,271.01 L475.50,270.76 L476.00,270.56 L476.50,270.42 L477.00,270.35 L477.50,270.23 L478.00,269.78 L478.50,269.10 L479.00,268.30 L479.50,267.48 L480.00,266.74 L480.50,266.19 L481.00,265.93 L481.50,265.65 L482.00,264.70 L482.50,263.42 L483.00,262.13 L483.50,261.19 L484.00,260.89 L484.50,260.17 L485.00,258.77 L485.50,257.15 L486.00,255.75 L486.50,255.03 L486.75,254.81 L487.00,253.77 L487.25,252.17 L487.50,250.42 L487.75,248.91 L488.00,248.02 L488.25,247.68 L488.50,246.48 L488.75,244.96 L489.00,243.92 L489.25,244.16 L489.50,245.88 L489.75,248.04 L490.00,249.53 L490.25,249.95 L490.50,251.23 L490.75,253.02 L491.00,254.68 L491.25,255.57 L491.50,255.71 L491.75,256.11 L492.00,256.69 L492.25,257.33 L492.75,258.38 L493.25,258.64 L493.75,259.25 L494.25,260.26 L494.75,261.45 L495.25,262.59 L495.75,263.47 L496.25,263.86 L496.75,264.02 L497.25,264.49 L497.75,265.10 L498.25,265.70 L498.75,266.12 L499.25,266.23 L499.75,266.47 L500.25,266.90 L500.75,267.42 L501.25,267.91 L501.75,268.28 L502.25,268.40 L502.75,268.51 L503.25,268.75 L503.75,269.08 L504.25,269.45 L504.75,269.81 L505.25,270.11 L505.75,270.31 L506.25,270.36 L506.75,270.45 L507.25,270.63 L507.75,270.88 L508.25,271.17 L508.75,271.48 L509.25,271.78 L509.75,272.04 L510.25,272.26 L510.75,272.39 L511.25,272.42 L511.75,272.44 L512.25,272.50 L512.75,272.58 L513.25,272.67 L513.75,272.78 L514.25,272.89 L514.75,273.00 L515.25,273.10 L515.75,273.19 L516.25,273.25 L516.75,273.29 L517.25,273.30 L517.75,273.30 L518.25,273.30 L518.75,273.30 L519.25,273.30 L519.75,273.30 L520.25,273.30 L520.75,273.30 L521.25,273.30 L521.75,273.30 L522.25,273.30 L522.75,273.30 L523.25,273.30 L523.75,273.30 L524.25,273.30 L524.75,273.30 L525.25,273.30 L525.75,273.30 L526.25,273.30 L526.75,273.30 L527.25,273.30 L527.75,273.30 L528.25,273.30" fill="none" stroke="#7a5a8e" stroke-width="1.0" stroke-linejoin="round"/>
<path d="M418.00,273.30 L418.50,273.30 L419.00,273.30 L419.50,273.30 L420.00,273.30 L420.50,273.30 L421.00,273.30 L421.50,273.30 L422.00,273.30 L422.50,273.30 L423.00,273.30 L423.50,273.30 L424.00,273.30 L424.50,273.30 L425.00,273.30 L425.50,273.30 L426.00,273.30 L426.50,273.30 L427.00,273.30 L427.50,273.30 L428.00,273.30 L428.50,273.30 L429.00,273.30 L429.50,273.30 L430.00,273.30 L430.50,273.30 L431.00,273.30 L431.50,273.30 L432.00,273.30 L432.50,273.30 L433.00,273.30 L433.50,273.30 L434.00,273.30 L434.50,273.30 L435.00,273.30 L435.50,273.30 L436.00,273.30 L436.50,273.30 L437.00,273.30 L437.50,273.30 L438.00,273.30 L438.50,273.30 L439.00,273.30 L439.50,273.30 L440.00,273.30 L440.50,273.30 L441.00,273.30 L441.50,273.30 L442.00,273.30 L442.50,273.30 L443.00,273.30 L443.50,273.30 L444.00,273.30 L444.50,273.30 L445.00,273.30 L445.50,273.30 L446.00,273.30 L446.50,273.30 L447.00,273.30 L447.50,273.30 L448.00,273.30 L448.50,273.30 L449.00,273.30 L449.50,273.30 L450.00,273.30 L450.50,273.30 L451.00,273.30 L451.50,273.30 L452.00,273.30 L452.50,273.30 L453.00,273.30 L453.50,273.30 L454.00,273.30 L454.50,273.30 L455.00,273.30 L455.50,273.30 L456.00,273.30 L456.50,273.30 L457.00,273.30 L457.50,273.30 L458.00,273.30 L458.50,273.30 L459.00,273.30 L459.50,273.30 L460.00,273.29 L460.50,273.28 L461.00,273.27 L461.50,273.26 L462.00,273.24 L462.50,273.22 L463.00,273.20 L463.50,273.17 L464.00,273.15 L464.50,273.12 L465.00,273.10 L465.50,273.07 L466.00,273.05 L466.50,273.03 L467.00,273.01 L467.50,272.99 L468.00,272.97 L468.50,272.95 L469.00,272.94 L469.50,272.93 L470.00,272.93 L470.50,272.90 L471.00,272.66 L471.50,272.22 L472.00,271.63 L472.50,270.96 L473.00,270.28 L473.50,269.65 L474.00,269.13 L474.50,268.80 L475.00,268.70 L475.50,268.33 L476.00,267.56 L476.50,266.53 L477.00,265.39 L477.50,264.30 L478.00,263.41 L478.50,262.86 L479.00,262.66 L479.50,261.68 L480.00,259.97 L480.50,257.90 L481.00,255.87 L481.50,254.27 L482.00,253.49 L482.50,252.59 L483.00,249.73 L483.50,246.11 L484.00,243.00 L484.50,241.68 L485.00,239.66 L485.50,235.33 L486.00,231.25 L486.50,229.76 L486.75,228.40 L487.00,226.00 L487.25,223.08 L487.50,220.16 L487.75,217.76 L488.00,216.40 L488.25,215.96 L488.50,214.51 L488.75,212.70 L489.00,211.44 L489.25,211.75 L489.50,213.92 L489.75,216.64 L490.00,218.53 L490.25,219.42 L490.50,222.67 L490.75,226.76 L491.00,229.59 L491.25,230.14 L491.50,231.35 L491.75,233.04 L492.00,234.61 L492.25,235.45 L492.75,236.39 L493.25,238.29 L493.75,239.21 L494.25,239.99 L494.75,241.64 L495.25,243.58 L495.75,245.23 L496.25,246.01 L496.75,247.18 L497.25,250.05 L497.75,252.73 L498.25,253.52 L498.75,254.47 L499.25,256.08 L499.75,257.75 L500.25,258.87 L500.75,259.09 L501.25,259.43 L501.75,260.02 L502.25,260.75 L502.75,261.52 L503.25,262.23 L503.75,262.77 L504.25,263.05 L504.75,263.17 L505.25,263.58 L505.75,264.20 L506.25,264.90 L506.75,265.55 L507.25,266.01 L507.75,266.17 L508.25,266.36 L508.75,266.79 L509.25,267.41 L509.75,268.12 L510.25,268.85 L510.75,269.54 L511.25,270.09 L511.75,270.43 L512.25,270.52 L512.75,270.68 L513.25,270.99 L513.75,271.40 L514.25,271.85 L514.75,272.29 L515.25,272.65 L515.75,272.88 L516.25,272.93 L516.75,272.93 L517.25,272.94 L517.75,272.94 L518.25,272.96 L518.75,272.97 L519.25,272.98 L519.75,273.00 L520.25,273.02 L520.75,273.04 L521.25,273.06 L521.75,273.08 L522.25,273.10 L522.75,273.12 L523.25,273.14 L523.75,273.16 L524.25,273.18 L524.75,273.20 L525.25,273.22 L525.75,273.24 L526.25,273.25 L526.75,273.27 L527.25,273.28 L527.75,273.29 L528.25,273.30" fill="none" stroke="#f0a040" stroke-width="1.0" stroke-linejoin="round"/>
<path d="M418.00,273.30 L418.50,273.30 L419.00,273.30 L419.50,273.30 L420.00,273.30 L420.50,273.30 L421.00,273.30 L421.50,273.30 L422.00,273.30 L422.50,273.30 L423.00,273.30 L423.50,273.30 L424.00,273.30 L424.50,273.30 L425.00,273.30 L425.50,273.30 L426.00,273.30 L426.50,273.30 L427.00,273.30 L427.50,273.30 L428.00,273.30 L428.50,273.30 L429.00,273.30 L429.50,273.30 L430.00,273.30 L430.50,273.30 L431.00,273.30 L431.50,273.30 L432.00,273.30 L432.50,273.30 L433.00,273.30 L433.50,273.30 L434.00,273.30 L434.50,273.30 L435.00,273.30 L435.50,273.30 L436.00,273.30 L436.50,273.30 L437.00,273.30 L437.50,273.30 L438.00,273.30 L438.50,273.30 L439.00,273.30 L439.50,273.30 L440.00,273.30 L440.50,273.30 L441.00,273.30 L441.50,273.30 L442.00,273.30 L442.50,273.30 L443.00,273.30 L443.50,273.30 L444.00,273.30 L444.50,273.30 L445.00,273.30 L445.50,273.30 L446.00,273.30 L446.50,273.30 L447.00,273.30 L447.50,273.30 L448.00,273.30 L448.50,273.30 L449.00,273.30 L449.50,273.30 L450.00,273.30 L450.50,273.30 L451.00,273.30 L451.50,273.30 L452.00,273.30 L452.50,273.30 L453.00,273.30 L453.50,273.30 L454.00,273.30 L454.50,273.30 L455.00,273.30 L455.50,273.30 L456.00,273.30 L456.50,273.30 L457.00,273.30 L457.50,273.30 L458.00,273.30 L458.50,273.30 L459.00,273.30 L459.50,273.30 L460.00,273.29 L460.50,273.28 L461.00,273.27 L461.50,273.25 L462.00,273.23 L462.50,273.21 L463.00,273.19 L463.50,273.16 L464.00,273.14 L464.50,273.11 L465.00,273.08 L465.50,273.06 L466.00,273.03 L466.50,273.01 L467.00,272.98 L467.50,272.96 L468.00,272.94 L468.50,272.93 L469.00,272.91 L469.50,272.91 L470.00,272.90 L470.50,272.87 L471.00,272.62 L471.50,272.13 L472.00,271.50 L472.50,270.78 L473.00,270.05 L473.50,269.37 L474.00,268.82 L474.50,268.46 L475.00,268.35 L475.50,267.96 L476.00,267.12 L476.50,266.02 L477.00,264.79 L477.50,263.62 L478.00,262.66 L478.50,262.07 L479.00,261.86 L479.50,260.80 L480.00,258.95 L480.50,256.73 L481.00,254.55 L481.50,252.83 L482.00,251.98 L482.50,251.02 L483.00,247.95 L483.50,244.05 L484.00,240.70 L484.50,239.28 L485.00,237.11 L485.50,232.45 L486.00,228.06 L486.50,226.46 L486.75,225.00 L487.00,222.42 L487.25,219.27 L487.50,216.13 L487.75,213.55 L488.00,212.08 L488.25,211.61 L488.50,210.06 L488.75,208.10 L489.00,206.75 L489.25,207.09 L489.50,209.42 L489.75,212.35 L490.00,214.38 L490.25,215.33 L490.50,218.83 L490.75,223.23 L491.00,226.27 L491.25,226.87 L491.50,228.17 L491.75,229.99 L492.00,231.68 L492.25,232.58 L492.75,233.59 L493.25,235.64 L493.75,236.62 L494.25,237.46 L494.75,239.24 L495.25,241.33 L495.75,243.11 L496.25,243.94 L496.75,245.20 L497.25,248.29 L497.75,251.17 L498.25,252.02 L498.75,253.04 L499.25,254.77 L499.75,256.57 L500.25,257.78 L500.75,258.01 L501.25,258.38 L501.75,259.01 L502.25,259.79 L502.75,260.62 L503.25,261.39 L503.75,261.97 L504.25,262.28 L504.75,262.40 L505.25,262.84 L505.75,263.51 L506.25,264.26 L506.75,264.96 L507.25,265.46 L507.75,265.63 L508.25,265.83 L508.75,266.30 L509.25,266.96 L509.75,267.73 L510.25,268.52 L510.75,269.25 L511.25,269.84 L511.75,270.21 L512.25,270.31 L512.75,270.48 L513.25,270.82 L513.75,271.26 L514.25,271.75 L514.75,272.21 L515.25,272.60 L515.75,272.84 L516.25,272.90 L516.75,272.90 L517.25,272.91 L517.75,272.92 L518.25,272.93 L518.75,272.94 L519.25,272.96 L519.75,272.98 L520.25,273.00 L520.75,273.02 L521.25,273.04 L521.75,273.06 L522.25,273.08 L522.75,273.11 L523.25,273.13 L523.75,273.15 L524.25,273.17 L524.75,273.20 L525.25,273.22 L525.75,273.23 L526.25,273.25 L526.75,273.27 L527.25,273.28 L527.75,273.29 L528.25,273.30" fill="none" stroke="#e0407a" stroke-width="1.0" stroke-linejoin="round"/>
<path d="M418.00,273.30 L418.50,273.30 L419.00,273.30 L419.50,273.30 L420.00,273.30 L420.50,273.30 L421.00,273.30 L421.50,273.30 L422.00,273.30 L422.50,273.30 L423.00,273.30 L423.50,273.30 L424.00,273.30 L424.50,273.30 L425.00,273.30 L425.50,273.30 L426.00,273.30 L426.50,273.30 L427.00,273.30 L427.50,273.30 L428.00,273.30 L428.50,273.30 L429.00,273.30 L429.50,273.30 L430.00,273.30 L430.50,273.30 L431.00,273.30 L431.50,273.30 L432.00,273.30 L432.50,273.30 L433.00,273.30 L433.50,273.30 L434.00,273.30 L434.50,273.30 L435.00,273.30 L435.50,273.30 L436.00,273.30 L436.50,273.30 L437.00,273.30 L437.50,273.30 L438.00,273.30 L438.50,273.30 L439.00,273.30 L439.50,273.30 L440.00,273.30 L440.50,273.30 L441.00,273.30 L441.50,273.30 L442.00,273.30 L442.50,273.30 L443.00,273.30 L443.50,273.30 L444.00,273.30 L444.50,273.30 L445.00,273.30 L445.50,273.30 L446.00,273.30 L446.50,273.30 L447.00,273.30 L447.50,273.30 L448.00,273.30 L448.50,273.30 L449.00,273.30 L449.50,273.30 L450.00,273.30 L450.50,273.30 L451.00,273.30 L451.50,273.30 L452.00,273.30 L452.50,273.30 L453.00,273.30 L453.50,273.30 L454.00,273.30 L454.50,273.30 L455.00,273.30 L455.50,273.30 L456.00,273.30 L456.50,273.30 L457.00,273.30 L457.50,273.30 L458.00,273.30 L458.50,273.30 L459.00,273.30 L459.50,273.30 L460.00,273.29 L460.50,273.28 L461.00,273.26 L461.50,273.24 L462.00,273.22 L462.50,273.19 L463.00,273.17 L463.50,273.14 L464.00,273.11 L464.50,273.07 L465.00,273.04 L465.50,273.01 L466.00,272.98 L466.50,272.95 L467.00,272.92 L467.50,272.90 L468.00,272.87 L468.50,272.85 L469.00,272.84 L469.50,272.83 L470.00,272.82 L470.50,272.79 L471.00,272.48 L471.50,271.91 L472.00,271.15 L472.50,270.28 L473.00,269.41 L473.50,268.60 L474.00,267.94 L474.50,267.51 L475.00,267.38 L475.50,266.91 L476.00,265.91 L476.50,264.58 L477.00,263.12 L477.50,261.72 L478.00,260.57 L478.50,259.86 L479.00,259.61 L479.50,258.35 L480.00,256.14 L480.50,253.48 L481.00,250.87 L481.50,248.81 L482.00,247.80 L482.50,246.64 L483.00,242.97 L483.50,238.31 L484.00,234.30 L484.50,232.60 L485.00,230.00 L485.50,224.42 L486.00,219.17 L486.50,217.26 L486.75,215.51 L487.00,212.42 L487.25,208.66 L487.50,204.90 L487.75,201.81 L488.00,200.06 L488.25,199.50 L488.50,197.64 L488.75,195.30 L489.00,193.68 L489.25,194.08 L489.50,196.87 L489.75,200.38 L490.00,202.81 L490.25,203.95 L490.50,208.13 L490.75,213.39 L491.00,217.04 L491.25,217.75 L491.50,219.30 L491.75,221.48 L492.00,223.50 L492.25,224.59 L492.75,225.79 L493.25,228.24 L493.75,229.42 L494.25,230.42 L494.75,232.55 L495.25,235.05 L495.75,237.18 L496.25,238.18 L496.75,239.68 L497.25,243.37 L497.75,246.82 L498.25,247.84 L498.75,249.06 L499.25,251.13 L499.75,253.28 L500.25,254.73 L500.75,255.01 L501.25,255.45 L501.75,256.20 L502.25,257.14 L502.75,258.13 L503.25,259.05 L503.75,259.75 L504.25,260.11 L504.75,260.26 L505.25,260.79 L505.75,261.59 L506.25,262.49 L506.75,263.32 L507.25,263.92 L507.75,264.13 L508.25,264.36 L508.75,264.93 L509.25,265.71 L509.75,266.63 L510.25,267.58 L510.75,268.45 L511.25,269.16 L511.75,269.61 L512.25,269.72 L512.75,269.93 L513.25,270.33 L513.75,270.86 L514.25,271.44 L514.75,272.00 L515.25,272.46 L515.75,272.75 L516.25,272.82 L516.75,272.82 L517.25,272.83 L517.75,272.84 L518.25,272.86 L518.75,272.87 L519.25,272.89 L519.75,272.91 L520.25,272.94 L520.75,272.96 L521.25,272.99 L521.75,273.01 L522.25,273.04 L522.75,273.07 L523.25,273.10 L523.75,273.12 L524.25,273.15 L524.75,273.18 L525.25,273.20 L525.75,273.22 L526.25,273.24 L526.75,273.26 L527.25,273.27 L527.75,273.29 L528.25,273.29" fill="none" stroke="#a6ad5a" stroke-width="1.0" stroke-linejoin="round"/>
<path d="M418.00,273.30 L418.50,273.30 L419.00,273.30 L419.50,273.30 L420.00,273.30 L420.50,273.30 L421.00,273.30 L421.50,273.30 L422.00,273.30 L422.50,273.30 L423.00,273.30 L423.50,273.30 L424.00,273.30 L424.50,273.30 L425.00,273.30 L425.50,273.30 L426.00,273.30 L426.50,273.30 L427.00,273.30 L427.50,273.30 L428.00,273.30 L428.50,273.30 L429.00,273.30 L429.50,273.30 L430.00,273.30 L430.50,273.30 L431.00,273.30 L431.50,273.30 L432.00,273.30 L432.50,273.30 L433.00,273.30 L433.50,273.30 L434.00,273.30 L434.50,273.30 L435.00,273.30 L435.50,273.30 L436.00,273.30 L436.50,273.30 L437.00,273.30 L437.50,273.30 L438.00,273.30 L438.50,273.30 L439.00,273.30 L439.50,273.30 L440.00,273.30 L440.50,273.30 L441.00,273.30 L441.50,273.30 L442.00,273.30 L442.50,273.30 L443.00,273.30 L443.50,273.30 L444.00,273.30 L444.50,273.30 L445.00,273.30 L445.50,273.30 L446.00,273.30 L446.50,273.30 L447.00,273.30 L447.50,273.30 L448.00,273.30 L448.50,273.30 L449.00,273.30 L449.50,273.30 L450.00,273.30 L450.50,273.30 L451.00,273.30 L451.50,273.30 L452.00,273.30 L452.50,273.30 L453.00,273.30 L453.50,273.30 L454.00,273.30 L454.50,273.30 L455.00,273.30 L455.50,273.30 L456.00,273.30 L456.50,273.30 L457.00,273.30 L457.50,273.30 L458.00,273.30 L458.50,273.30 L459.00,273.30 L459.50,273.30 L460.00,273.29 L460.50,273.27 L461.00,273.25 L461.50,273.23 L462.00,273.20 L462.50,273.16 L463.00,273.13 L463.50,273.09 L464.00,273.05 L464.50,273.01 L465.00,272.97 L465.50,272.93 L466.00,272.89 L466.50,272.85 L467.00,272.81 L467.50,272.78 L468.00,272.75 L468.50,272.73 L469.00,272.71 L469.50,272.69 L470.00,272.69 L470.50,272.65 L471.00,272.25 L471.50,271.51 L472.00,270.53 L472.50,269.42 L473.00,268.30 L473.50,267.25 L474.00,266.40 L474.50,265.86 L475.00,265.69 L475.50,265.08 L476.00,263.80 L476.50,262.09 L477.00,260.22 L477.50,258.41 L478.00,256.93 L478.50,256.02 L479.00,255.70 L479.50,254.07 L480.00,251.23 L480.50,247.81 L481.00,244.46 L481.50,241.81 L482.00,240.51 L482.50,239.02 L483.00,234.30 L483.50,228.31 L484.00,223.16 L484.50,220.97 L485.00,217.63 L485.50,210.46 L486.00,203.71 L486.50,201.25 L486.75,199.00 L487.00,195.03 L487.25,190.19 L487.50,185.36 L487.75,181.38 L488.00,179.13 L488.25,178.41 L488.50,176.02 L488.75,173.01 L489.00,170.93 L489.25,171.45 L489.50,175.03 L489.75,179.54 L490.00,182.67 L490.25,184.13 L490.50,189.51 L490.75,196.28 L491.00,200.96 L491.25,201.88 L491.50,203.87 L491.75,206.67 L492.00,209.27 L492.25,210.67 L492.75,212.21 L493.25,215.37 L493.75,216.88 L494.25,218.17 L494.75,220.91 L495.25,224.12 L495.75,226.85 L496.25,228.14 L496.75,230.08 L497.25,234.82 L497.75,239.25 L498.25,240.57 L498.75,242.13 L499.25,244.80 L499.75,247.56 L500.25,249.42 L500.75,249.78 L501.25,250.35 L501.75,251.32 L502.25,252.53 L502.75,253.80 L503.25,254.97 L503.75,255.88 L504.25,256.34 L504.75,256.53 L505.25,257.22 L505.75,258.24 L506.25,259.40 L506.75,260.47 L507.25,261.24 L507.75,261.50 L508.25,261.81 L508.75,262.53 L509.25,263.55 L509.75,264.73 L510.25,265.94 L510.75,267.07 L511.25,267.98 L511.75,268.55 L512.25,268.70 L512.75,268.97 L513.25,269.49 L513.75,270.16 L514.25,270.91 L514.75,271.62 L515.25,272.22 L515.75,272.60 L516.25,272.68 L516.75,272.69 L517.25,272.70 L517.75,272.71 L518.25,272.73 L518.75,272.75 L519.25,272.78 L519.75,272.80 L520.25,272.83 L520.75,272.86 L521.25,272.90 L521.75,272.93 L522.25,272.97 L522.75,273.00 L523.25,273.04 L523.75,273.07 L524.25,273.11 L524.75,273.14 L525.25,273.17 L525.75,273.20 L526.25,273.22 L526.75,273.25 L527.25,273.27 L527.75,273.28 L528.25,273.29" fill="none" stroke="#7a6cc8" stroke-width="1.0" stroke-linejoin="round"/>
<path d="M418.00,273.30 L418.50,273.30 L419.00,273.30 L419.50,273.30 L420.00,273.30 L420.50,273.30 L421.00,273.30 L421.50,273.30 L422.00,273.30 L422.50,273.30 L423.00,273.30 L423.50,273.30 L424.00,273.30 L424.50,273.30 L425.00,273.30 L425.50,273.30 L426.00,273.30 L426.50,273.30 L427.00,273.30 L427.50,273.30 L428.00,273.30 L428.50,273.30 L429.00,273.30 L429.50,273.30 L430.00,273.30 L430.50,273.30 L431.00,273.30 L431.50,273.30 L432.00,273.30 L432.50,273.30 L433.00,273.30 L433.50,273.30 L434.00,273.30 L434.50,273.30 L435.00,273.30 L435.50,273.30 L436.00,273.30 L436.50,273.30 L437.00,273.30 L437.50,273.30 L438.00,273.30 L438.50,273.30 L439.00,273.30 L439.50,273.30 L440.00,273.30 L440.50,273.30 L441.00,273.30 L441.50,273.30 L442.00,273.30 L442.50,273.30 L443.00,273.30 L443.50,273.30 L444.00,273.30 L444.50,273.30 L445.00,273.30 L445.50,273.30 L446.00,273.30 L446.50,273.30 L447.00,273.30 L447.50,273.30 L448.00,273.30 L448.50,273.30 L449.00,273.30 L449.50,273.30 L450.00,273.30 L450.50,273.30 L451.00,273.30 L451.50,273.30 L452.00,273.30 L452.50,273.30 L453.00,273.30 L453.50,273.30 L454.00,273.30 L454.50,273.30 L455.00,273.30 L455.50,273.30 L456.00,273.30 L456.50,273.30 L457.00,273.30 L457.50,273.30 L458.00,273.30 L458.50,273.30 L459.00,273.30 L459.50,273.30 L460.00,273.29 L460.50,273.28 L461.00,273.27 L461.50,273.25 L462.00,273.24 L462.50,273.21 L463.00,273.19 L463.50,273.17 L464.00,273.14 L464.50,273.11 L465.00,273.09 L465.50,273.06 L466.00,273.03 L466.50,273.00 L467.00,272.98 L467.50,272.96 L468.00,272.93 L468.50,272.91 L469.00,272.90 L469.50,272.88 L470.00,272.87 L470.50,272.86 L471.00,272.86 L471.50,272.84 L472.00,272.75 L472.50,272.62 L473.00,272.44 L473.50,272.24 L474.00,272.02 L474.50,271.81 L475.00,271.60 L475.50,271.41 L476.00,271.26 L476.50,271.15 L477.00,271.10 L477.50,271.01 L478.00,270.67 L478.50,270.17 L479.00,269.57 L479.50,268.96 L480.00,268.41 L480.50,268.00 L481.00,267.81 L481.50,267.59 L482.00,266.89 L482.50,265.93 L483.00,264.97 L483.50,264.27 L484.00,264.04 L484.50,263.50 L485.00,262.46 L485.50,261.26 L486.00,260.22 L486.50,259.68 L486.75,259.51 L487.00,258.73 L487.25,257.54 L487.50,256.24 L487.75,255.11 L488.00,254.45 L488.25,254.19 L488.50,253.30 L488.75,252.17 L489.00,251.39 L489.25,251.57 L489.50,252.85 L489.75,254.46 L490.00,255.58 L490.25,255.89 L490.50,256.84 L490.75,258.17 L491.00,259.41 L491.25,260.08 L491.50,260.18 L491.75,260.48 L492.00,260.91 L492.25,261.39 L492.75,262.17 L493.25,262.36 L493.75,262.82 L494.25,263.57 L494.75,264.46 L495.25,265.31 L495.75,265.97 L496.25,266.26 L496.75,266.38 L497.25,266.73 L497.75,267.19 L498.25,267.63 L498.75,267.94 L499.25,268.03 L499.75,268.20 L500.25,268.53 L500.75,268.91 L501.25,269.28 L501.75,269.56 L502.25,269.65 L502.75,269.73 L503.25,269.91 L503.75,270.15 L504.25,270.43 L504.75,270.70 L505.25,270.92 L505.75,271.07 L506.25,271.10 L506.75,271.17 L507.25,271.31 L507.75,271.49 L508.25,271.71 L508.75,271.94 L509.25,272.16 L509.75,272.36 L510.25,272.52 L510.75,272.62 L511.25,272.64 L511.75,272.66 L512.25,272.70 L512.75,272.76 L513.25,272.83 L513.75,272.91 L514.25,272.99 L514.75,273.08 L515.25,273.15 L515.75,273.21 L516.25,273.26 L516.75,273.29 L517.25,273.30 L517.75,273.30 L518.25,273.30 L518.75,273.30 L519.25,273.30 L519.75,273.30 L520.25,273.30 L520.75,273.30 L521.25,273.30 L521.75,273.30 L522.25,273.30 L522.75,273.30 L523.25,273.30 L523.75,273.30 L524.25,273.30 L524.75,273.30 L525.25,273.30 L525.75,273.30 L526.25,273.30 L526.75,273.30 L527.25,273.30 L527.75,273.30 L528.25,273.30" fill="none" stroke="#3fa06e" stroke-width="1.2" stroke-linejoin="round"/>
<path d="M497.4,204.2 L497.4,179.7 L495.8,179.7 L498.6,174.0 L501.8,179.7 L499.8,179.7 L499.8,204.2 Z" fill="#000"/>
<text stroke="none" x="493.4" y="172.8" font-size="6.2" fill="#222" font-family='"Liberation Sans", sans-serif'>1.5×</text>
</svg></body></html>
